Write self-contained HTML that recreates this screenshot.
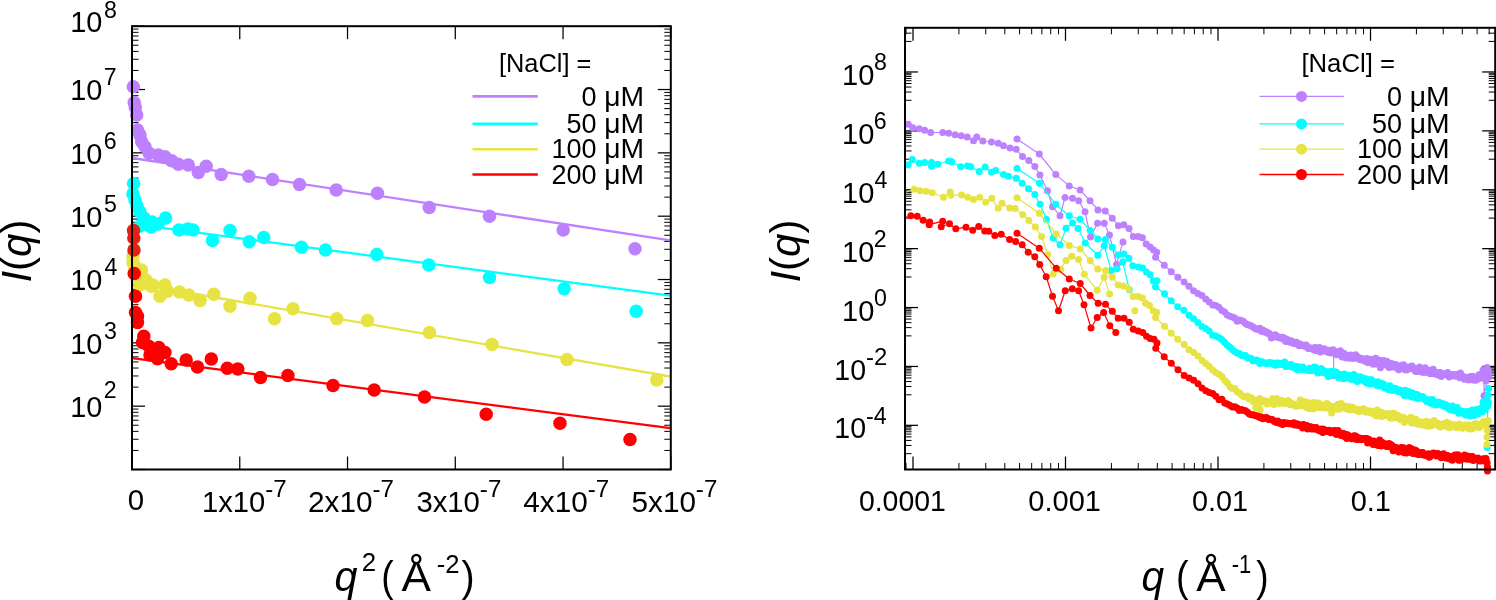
<!DOCTYPE html>
<html><head><meta charset="utf-8"><style>
html,body{margin:0;padding:0;background:#fff;}
svg{display:block;will-change:transform;}
text{font-family:"Liberation Sans", sans-serif;fill:#000;}
</style></head><body>
<svg width="1496" height="600" viewBox="0 0 1496 600">
<rect width="1496" height="600" fill="#fff"/>
<line x1="132.00" y1="469.50" x2="145.00" y2="469.50" stroke="#000" stroke-width="1.25"/>
<line x1="670.80" y1="469.50" x2="657.80" y2="469.50" stroke="#000" stroke-width="1.25"/>
<line x1="132.00" y1="450.44" x2="138.50" y2="450.44" stroke="#000" stroke-width="1.0"/>
<line x1="670.80" y1="450.44" x2="664.30" y2="450.44" stroke="#000" stroke-width="1.0"/>
<line x1="132.00" y1="439.28" x2="138.50" y2="439.28" stroke="#000" stroke-width="1.0"/>
<line x1="670.80" y1="439.28" x2="664.30" y2="439.28" stroke="#000" stroke-width="1.0"/>
<line x1="132.00" y1="431.37" x2="138.50" y2="431.37" stroke="#000" stroke-width="1.0"/>
<line x1="670.80" y1="431.37" x2="664.30" y2="431.37" stroke="#000" stroke-width="1.0"/>
<line x1="132.00" y1="425.24" x2="138.50" y2="425.24" stroke="#000" stroke-width="1.0"/>
<line x1="670.80" y1="425.24" x2="664.30" y2="425.24" stroke="#000" stroke-width="1.0"/>
<line x1="132.00" y1="420.22" x2="138.50" y2="420.22" stroke="#000" stroke-width="1.0"/>
<line x1="670.80" y1="420.22" x2="664.30" y2="420.22" stroke="#000" stroke-width="1.0"/>
<line x1="132.00" y1="415.98" x2="138.50" y2="415.98" stroke="#000" stroke-width="1.0"/>
<line x1="670.80" y1="415.98" x2="664.30" y2="415.98" stroke="#000" stroke-width="1.0"/>
<line x1="132.00" y1="412.31" x2="138.50" y2="412.31" stroke="#000" stroke-width="1.0"/>
<line x1="670.80" y1="412.31" x2="664.30" y2="412.31" stroke="#000" stroke-width="1.0"/>
<line x1="132.00" y1="409.07" x2="138.50" y2="409.07" stroke="#000" stroke-width="1.0"/>
<line x1="670.80" y1="409.07" x2="664.30" y2="409.07" stroke="#000" stroke-width="1.0"/>
<line x1="132.00" y1="406.17" x2="145.00" y2="406.17" stroke="#000" stroke-width="1.25"/>
<line x1="670.80" y1="406.17" x2="657.80" y2="406.17" stroke="#000" stroke-width="1.25"/>
<line x1="132.00" y1="387.11" x2="138.50" y2="387.11" stroke="#000" stroke-width="1.0"/>
<line x1="670.80" y1="387.11" x2="664.30" y2="387.11" stroke="#000" stroke-width="1.0"/>
<line x1="132.00" y1="375.96" x2="138.50" y2="375.96" stroke="#000" stroke-width="1.0"/>
<line x1="670.80" y1="375.96" x2="664.30" y2="375.96" stroke="#000" stroke-width="1.0"/>
<line x1="132.00" y1="368.04" x2="138.50" y2="368.04" stroke="#000" stroke-width="1.0"/>
<line x1="670.80" y1="368.04" x2="664.30" y2="368.04" stroke="#000" stroke-width="1.0"/>
<line x1="132.00" y1="361.91" x2="138.50" y2="361.91" stroke="#000" stroke-width="1.0"/>
<line x1="670.80" y1="361.91" x2="664.30" y2="361.91" stroke="#000" stroke-width="1.0"/>
<line x1="132.00" y1="356.89" x2="138.50" y2="356.89" stroke="#000" stroke-width="1.0"/>
<line x1="670.80" y1="356.89" x2="664.30" y2="356.89" stroke="#000" stroke-width="1.0"/>
<line x1="132.00" y1="352.65" x2="138.50" y2="352.65" stroke="#000" stroke-width="1.0"/>
<line x1="670.80" y1="352.65" x2="664.30" y2="352.65" stroke="#000" stroke-width="1.0"/>
<line x1="132.00" y1="348.98" x2="138.50" y2="348.98" stroke="#000" stroke-width="1.0"/>
<line x1="670.80" y1="348.98" x2="664.30" y2="348.98" stroke="#000" stroke-width="1.0"/>
<line x1="132.00" y1="345.74" x2="138.50" y2="345.74" stroke="#000" stroke-width="1.0"/>
<line x1="670.80" y1="345.74" x2="664.30" y2="345.74" stroke="#000" stroke-width="1.0"/>
<line x1="132.00" y1="342.84" x2="145.00" y2="342.84" stroke="#000" stroke-width="1.25"/>
<line x1="670.80" y1="342.84" x2="657.80" y2="342.84" stroke="#000" stroke-width="1.25"/>
<line x1="132.00" y1="323.78" x2="138.50" y2="323.78" stroke="#000" stroke-width="1.0"/>
<line x1="670.80" y1="323.78" x2="664.30" y2="323.78" stroke="#000" stroke-width="1.0"/>
<line x1="132.00" y1="312.63" x2="138.50" y2="312.63" stroke="#000" stroke-width="1.0"/>
<line x1="670.80" y1="312.63" x2="664.30" y2="312.63" stroke="#000" stroke-width="1.0"/>
<line x1="132.00" y1="304.72" x2="138.50" y2="304.72" stroke="#000" stroke-width="1.0"/>
<line x1="670.80" y1="304.72" x2="664.30" y2="304.72" stroke="#000" stroke-width="1.0"/>
<line x1="132.00" y1="298.58" x2="138.50" y2="298.58" stroke="#000" stroke-width="1.0"/>
<line x1="670.80" y1="298.58" x2="664.30" y2="298.58" stroke="#000" stroke-width="1.0"/>
<line x1="132.00" y1="293.56" x2="138.50" y2="293.56" stroke="#000" stroke-width="1.0"/>
<line x1="670.80" y1="293.56" x2="664.30" y2="293.56" stroke="#000" stroke-width="1.0"/>
<line x1="132.00" y1="289.32" x2="138.50" y2="289.32" stroke="#000" stroke-width="1.0"/>
<line x1="670.80" y1="289.32" x2="664.30" y2="289.32" stroke="#000" stroke-width="1.0"/>
<line x1="132.00" y1="285.65" x2="138.50" y2="285.65" stroke="#000" stroke-width="1.0"/>
<line x1="670.80" y1="285.65" x2="664.30" y2="285.65" stroke="#000" stroke-width="1.0"/>
<line x1="132.00" y1="282.41" x2="138.50" y2="282.41" stroke="#000" stroke-width="1.0"/>
<line x1="670.80" y1="282.41" x2="664.30" y2="282.41" stroke="#000" stroke-width="1.0"/>
<line x1="132.00" y1="279.51" x2="145.00" y2="279.51" stroke="#000" stroke-width="1.25"/>
<line x1="670.80" y1="279.51" x2="657.80" y2="279.51" stroke="#000" stroke-width="1.25"/>
<line x1="132.00" y1="260.45" x2="138.50" y2="260.45" stroke="#000" stroke-width="1.0"/>
<line x1="670.80" y1="260.45" x2="664.30" y2="260.45" stroke="#000" stroke-width="1.0"/>
<line x1="132.00" y1="249.30" x2="138.50" y2="249.30" stroke="#000" stroke-width="1.0"/>
<line x1="670.80" y1="249.30" x2="664.30" y2="249.30" stroke="#000" stroke-width="1.0"/>
<line x1="132.00" y1="241.39" x2="138.50" y2="241.39" stroke="#000" stroke-width="1.0"/>
<line x1="670.80" y1="241.39" x2="664.30" y2="241.39" stroke="#000" stroke-width="1.0"/>
<line x1="132.00" y1="235.25" x2="138.50" y2="235.25" stroke="#000" stroke-width="1.0"/>
<line x1="670.80" y1="235.25" x2="664.30" y2="235.25" stroke="#000" stroke-width="1.0"/>
<line x1="132.00" y1="230.24" x2="138.50" y2="230.24" stroke="#000" stroke-width="1.0"/>
<line x1="670.80" y1="230.24" x2="664.30" y2="230.24" stroke="#000" stroke-width="1.0"/>
<line x1="132.00" y1="226.00" x2="138.50" y2="226.00" stroke="#000" stroke-width="1.0"/>
<line x1="670.80" y1="226.00" x2="664.30" y2="226.00" stroke="#000" stroke-width="1.0"/>
<line x1="132.00" y1="222.32" x2="138.50" y2="222.32" stroke="#000" stroke-width="1.0"/>
<line x1="670.80" y1="222.32" x2="664.30" y2="222.32" stroke="#000" stroke-width="1.0"/>
<line x1="132.00" y1="219.08" x2="138.50" y2="219.08" stroke="#000" stroke-width="1.0"/>
<line x1="670.80" y1="219.08" x2="664.30" y2="219.08" stroke="#000" stroke-width="1.0"/>
<line x1="132.00" y1="216.19" x2="145.00" y2="216.19" stroke="#000" stroke-width="1.25"/>
<line x1="670.80" y1="216.19" x2="657.80" y2="216.19" stroke="#000" stroke-width="1.25"/>
<line x1="132.00" y1="197.12" x2="138.50" y2="197.12" stroke="#000" stroke-width="1.0"/>
<line x1="670.80" y1="197.12" x2="664.30" y2="197.12" stroke="#000" stroke-width="1.0"/>
<line x1="132.00" y1="185.97" x2="138.50" y2="185.97" stroke="#000" stroke-width="1.0"/>
<line x1="670.80" y1="185.97" x2="664.30" y2="185.97" stroke="#000" stroke-width="1.0"/>
<line x1="132.00" y1="178.06" x2="138.50" y2="178.06" stroke="#000" stroke-width="1.0"/>
<line x1="670.80" y1="178.06" x2="664.30" y2="178.06" stroke="#000" stroke-width="1.0"/>
<line x1="132.00" y1="171.92" x2="138.50" y2="171.92" stroke="#000" stroke-width="1.0"/>
<line x1="670.80" y1="171.92" x2="664.30" y2="171.92" stroke="#000" stroke-width="1.0"/>
<line x1="132.00" y1="166.91" x2="138.50" y2="166.91" stroke="#000" stroke-width="1.0"/>
<line x1="670.80" y1="166.91" x2="664.30" y2="166.91" stroke="#000" stroke-width="1.0"/>
<line x1="132.00" y1="162.67" x2="138.50" y2="162.67" stroke="#000" stroke-width="1.0"/>
<line x1="670.80" y1="162.67" x2="664.30" y2="162.67" stroke="#000" stroke-width="1.0"/>
<line x1="132.00" y1="158.99" x2="138.50" y2="158.99" stroke="#000" stroke-width="1.0"/>
<line x1="670.80" y1="158.99" x2="664.30" y2="158.99" stroke="#000" stroke-width="1.0"/>
<line x1="132.00" y1="155.75" x2="138.50" y2="155.75" stroke="#000" stroke-width="1.0"/>
<line x1="670.80" y1="155.75" x2="664.30" y2="155.75" stroke="#000" stroke-width="1.0"/>
<line x1="132.00" y1="152.86" x2="145.00" y2="152.86" stroke="#000" stroke-width="1.25"/>
<line x1="670.80" y1="152.86" x2="657.80" y2="152.86" stroke="#000" stroke-width="1.25"/>
<line x1="132.00" y1="133.79" x2="138.50" y2="133.79" stroke="#000" stroke-width="1.0"/>
<line x1="670.80" y1="133.79" x2="664.30" y2="133.79" stroke="#000" stroke-width="1.0"/>
<line x1="132.00" y1="122.64" x2="138.50" y2="122.64" stroke="#000" stroke-width="1.0"/>
<line x1="670.80" y1="122.64" x2="664.30" y2="122.64" stroke="#000" stroke-width="1.0"/>
<line x1="132.00" y1="114.73" x2="138.50" y2="114.73" stroke="#000" stroke-width="1.0"/>
<line x1="670.80" y1="114.73" x2="664.30" y2="114.73" stroke="#000" stroke-width="1.0"/>
<line x1="132.00" y1="108.59" x2="138.50" y2="108.59" stroke="#000" stroke-width="1.0"/>
<line x1="670.80" y1="108.59" x2="664.30" y2="108.59" stroke="#000" stroke-width="1.0"/>
<line x1="132.00" y1="103.58" x2="138.50" y2="103.58" stroke="#000" stroke-width="1.0"/>
<line x1="670.80" y1="103.58" x2="664.30" y2="103.58" stroke="#000" stroke-width="1.0"/>
<line x1="132.00" y1="99.34" x2="138.50" y2="99.34" stroke="#000" stroke-width="1.0"/>
<line x1="670.80" y1="99.34" x2="664.30" y2="99.34" stroke="#000" stroke-width="1.0"/>
<line x1="132.00" y1="95.67" x2="138.50" y2="95.67" stroke="#000" stroke-width="1.0"/>
<line x1="670.80" y1="95.67" x2="664.30" y2="95.67" stroke="#000" stroke-width="1.0"/>
<line x1="132.00" y1="92.43" x2="138.50" y2="92.43" stroke="#000" stroke-width="1.0"/>
<line x1="670.80" y1="92.43" x2="664.30" y2="92.43" stroke="#000" stroke-width="1.0"/>
<line x1="132.00" y1="89.53" x2="145.00" y2="89.53" stroke="#000" stroke-width="1.25"/>
<line x1="670.80" y1="89.53" x2="657.80" y2="89.53" stroke="#000" stroke-width="1.25"/>
<line x1="132.00" y1="70.46" x2="138.50" y2="70.46" stroke="#000" stroke-width="1.0"/>
<line x1="670.80" y1="70.46" x2="664.30" y2="70.46" stroke="#000" stroke-width="1.0"/>
<line x1="132.00" y1="59.31" x2="138.50" y2="59.31" stroke="#000" stroke-width="1.0"/>
<line x1="670.80" y1="59.31" x2="664.30" y2="59.31" stroke="#000" stroke-width="1.0"/>
<line x1="132.00" y1="51.40" x2="138.50" y2="51.40" stroke="#000" stroke-width="1.0"/>
<line x1="670.80" y1="51.40" x2="664.30" y2="51.40" stroke="#000" stroke-width="1.0"/>
<line x1="132.00" y1="45.26" x2="138.50" y2="45.26" stroke="#000" stroke-width="1.0"/>
<line x1="670.80" y1="45.26" x2="664.30" y2="45.26" stroke="#000" stroke-width="1.0"/>
<line x1="132.00" y1="40.25" x2="138.50" y2="40.25" stroke="#000" stroke-width="1.0"/>
<line x1="670.80" y1="40.25" x2="664.30" y2="40.25" stroke="#000" stroke-width="1.0"/>
<line x1="132.00" y1="36.01" x2="138.50" y2="36.01" stroke="#000" stroke-width="1.0"/>
<line x1="670.80" y1="36.01" x2="664.30" y2="36.01" stroke="#000" stroke-width="1.0"/>
<line x1="132.00" y1="32.34" x2="138.50" y2="32.34" stroke="#000" stroke-width="1.0"/>
<line x1="670.80" y1="32.34" x2="664.30" y2="32.34" stroke="#000" stroke-width="1.0"/>
<line x1="132.00" y1="29.10" x2="138.50" y2="29.10" stroke="#000" stroke-width="1.0"/>
<line x1="670.80" y1="29.10" x2="664.30" y2="29.10" stroke="#000" stroke-width="1.0"/>
<line x1="132.00" y1="26.20" x2="145.00" y2="26.20" stroke="#000" stroke-width="1.25"/>
<line x1="670.80" y1="26.20" x2="657.80" y2="26.20" stroke="#000" stroke-width="1.25"/>
<line x1="132.00" y1="469.50" x2="132.00" y2="456.50" stroke="#000" stroke-width="1.25"/>
<line x1="132.00" y1="26.20" x2="132.00" y2="39.20" stroke="#000" stroke-width="1.25"/>
<line x1="239.76" y1="469.50" x2="239.76" y2="456.50" stroke="#000" stroke-width="1.25"/>
<line x1="239.76" y1="26.20" x2="239.76" y2="39.20" stroke="#000" stroke-width="1.25"/>
<line x1="347.52" y1="469.50" x2="347.52" y2="456.50" stroke="#000" stroke-width="1.25"/>
<line x1="347.52" y1="26.20" x2="347.52" y2="39.20" stroke="#000" stroke-width="1.25"/>
<line x1="455.28" y1="469.50" x2="455.28" y2="456.50" stroke="#000" stroke-width="1.25"/>
<line x1="455.28" y1="26.20" x2="455.28" y2="39.20" stroke="#000" stroke-width="1.25"/>
<line x1="563.04" y1="469.50" x2="563.04" y2="456.50" stroke="#000" stroke-width="1.25"/>
<line x1="563.04" y1="26.20" x2="563.04" y2="39.20" stroke="#000" stroke-width="1.25"/>
<line x1="670.80" y1="469.50" x2="670.80" y2="456.50" stroke="#000" stroke-width="1.25"/>
<line x1="670.80" y1="26.20" x2="670.80" y2="39.20" stroke="#000" stroke-width="1.25"/>
<line x1="905.00" y1="425.33" x2="918.00" y2="425.33" stroke="#000" stroke-width="1.25"/>
<line x1="1495.20" y1="425.33" x2="1482.20" y2="425.33" stroke="#000" stroke-width="1.25"/>
<line x1="905.00" y1="366.44" x2="918.00" y2="366.44" stroke="#000" stroke-width="1.25"/>
<line x1="1495.20" y1="366.44" x2="1482.20" y2="366.44" stroke="#000" stroke-width="1.25"/>
<line x1="905.00" y1="307.54" x2="918.00" y2="307.54" stroke="#000" stroke-width="1.25"/>
<line x1="1495.20" y1="307.54" x2="1482.20" y2="307.54" stroke="#000" stroke-width="1.25"/>
<line x1="905.00" y1="248.65" x2="918.00" y2="248.65" stroke="#000" stroke-width="1.25"/>
<line x1="1495.20" y1="248.65" x2="1482.20" y2="248.65" stroke="#000" stroke-width="1.25"/>
<line x1="905.00" y1="189.76" x2="918.00" y2="189.76" stroke="#000" stroke-width="1.25"/>
<line x1="1495.20" y1="189.76" x2="1482.20" y2="189.76" stroke="#000" stroke-width="1.25"/>
<line x1="905.00" y1="130.86" x2="918.00" y2="130.86" stroke="#000" stroke-width="1.25"/>
<line x1="1495.20" y1="130.86" x2="1482.20" y2="130.86" stroke="#000" stroke-width="1.25"/>
<line x1="905.00" y1="71.97" x2="918.00" y2="71.97" stroke="#000" stroke-width="1.25"/>
<line x1="1495.20" y1="71.97" x2="1482.20" y2="71.97" stroke="#000" stroke-width="1.25"/>
<line x1="905.00" y1="453.67" x2="911.50" y2="453.67" stroke="#000" stroke-width="1.0"/>
<line x1="1495.20" y1="453.67" x2="1488.70" y2="453.67" stroke="#000" stroke-width="1.0"/>
<line x1="905.00" y1="445.41" x2="911.50" y2="445.41" stroke="#000" stroke-width="1.0"/>
<line x1="1495.20" y1="445.41" x2="1488.70" y2="445.41" stroke="#000" stroke-width="1.0"/>
<line x1="905.00" y1="440.43" x2="911.50" y2="440.43" stroke="#000" stroke-width="1.0"/>
<line x1="1495.20" y1="440.43" x2="1488.70" y2="440.43" stroke="#000" stroke-width="1.0"/>
<line x1="905.00" y1="436.86" x2="911.50" y2="436.86" stroke="#000" stroke-width="1.0"/>
<line x1="1495.20" y1="436.86" x2="1488.70" y2="436.86" stroke="#000" stroke-width="1.0"/>
<line x1="905.00" y1="434.07" x2="911.50" y2="434.07" stroke="#000" stroke-width="1.0"/>
<line x1="1495.20" y1="434.07" x2="1488.70" y2="434.07" stroke="#000" stroke-width="1.0"/>
<line x1="905.00" y1="431.78" x2="911.50" y2="431.78" stroke="#000" stroke-width="1.0"/>
<line x1="1495.20" y1="431.78" x2="1488.70" y2="431.78" stroke="#000" stroke-width="1.0"/>
<line x1="905.00" y1="429.84" x2="911.50" y2="429.84" stroke="#000" stroke-width="1.0"/>
<line x1="1495.20" y1="429.84" x2="1488.70" y2="429.84" stroke="#000" stroke-width="1.0"/>
<line x1="905.00" y1="428.15" x2="911.50" y2="428.15" stroke="#000" stroke-width="1.0"/>
<line x1="1495.20" y1="428.15" x2="1488.70" y2="428.15" stroke="#000" stroke-width="1.0"/>
<line x1="905.00" y1="426.66" x2="911.50" y2="426.66" stroke="#000" stroke-width="1.0"/>
<line x1="1495.20" y1="426.66" x2="1488.70" y2="426.66" stroke="#000" stroke-width="1.0"/>
<line x1="905.00" y1="394.78" x2="911.50" y2="394.78" stroke="#000" stroke-width="1.0"/>
<line x1="1495.20" y1="394.78" x2="1488.70" y2="394.78" stroke="#000" stroke-width="1.0"/>
<line x1="905.00" y1="386.52" x2="911.50" y2="386.52" stroke="#000" stroke-width="1.0"/>
<line x1="1495.20" y1="386.52" x2="1488.70" y2="386.52" stroke="#000" stroke-width="1.0"/>
<line x1="905.00" y1="381.54" x2="911.50" y2="381.54" stroke="#000" stroke-width="1.0"/>
<line x1="1495.20" y1="381.54" x2="1488.70" y2="381.54" stroke="#000" stroke-width="1.0"/>
<line x1="905.00" y1="377.96" x2="911.50" y2="377.96" stroke="#000" stroke-width="1.0"/>
<line x1="1495.20" y1="377.96" x2="1488.70" y2="377.96" stroke="#000" stroke-width="1.0"/>
<line x1="905.00" y1="375.17" x2="911.50" y2="375.17" stroke="#000" stroke-width="1.0"/>
<line x1="1495.20" y1="375.17" x2="1488.70" y2="375.17" stroke="#000" stroke-width="1.0"/>
<line x1="905.00" y1="372.88" x2="911.50" y2="372.88" stroke="#000" stroke-width="1.0"/>
<line x1="1495.20" y1="372.88" x2="1488.70" y2="372.88" stroke="#000" stroke-width="1.0"/>
<line x1="905.00" y1="370.94" x2="911.50" y2="370.94" stroke="#000" stroke-width="1.0"/>
<line x1="1495.20" y1="370.94" x2="1488.70" y2="370.94" stroke="#000" stroke-width="1.0"/>
<line x1="905.00" y1="369.26" x2="911.50" y2="369.26" stroke="#000" stroke-width="1.0"/>
<line x1="1495.20" y1="369.26" x2="1488.70" y2="369.26" stroke="#000" stroke-width="1.0"/>
<line x1="905.00" y1="367.77" x2="911.50" y2="367.77" stroke="#000" stroke-width="1.0"/>
<line x1="1495.20" y1="367.77" x2="1488.70" y2="367.77" stroke="#000" stroke-width="1.0"/>
<line x1="905.00" y1="335.89" x2="911.50" y2="335.89" stroke="#000" stroke-width="1.0"/>
<line x1="1495.20" y1="335.89" x2="1488.70" y2="335.89" stroke="#000" stroke-width="1.0"/>
<line x1="905.00" y1="327.62" x2="911.50" y2="327.62" stroke="#000" stroke-width="1.0"/>
<line x1="1495.20" y1="327.62" x2="1488.70" y2="327.62" stroke="#000" stroke-width="1.0"/>
<line x1="905.00" y1="322.65" x2="911.50" y2="322.65" stroke="#000" stroke-width="1.0"/>
<line x1="1495.20" y1="322.65" x2="1488.70" y2="322.65" stroke="#000" stroke-width="1.0"/>
<line x1="905.00" y1="319.07" x2="911.50" y2="319.07" stroke="#000" stroke-width="1.0"/>
<line x1="1495.20" y1="319.07" x2="1488.70" y2="319.07" stroke="#000" stroke-width="1.0"/>
<line x1="905.00" y1="316.28" x2="911.50" y2="316.28" stroke="#000" stroke-width="1.0"/>
<line x1="1495.20" y1="316.28" x2="1488.70" y2="316.28" stroke="#000" stroke-width="1.0"/>
<line x1="905.00" y1="313.99" x2="911.50" y2="313.99" stroke="#000" stroke-width="1.0"/>
<line x1="1495.20" y1="313.99" x2="1488.70" y2="313.99" stroke="#000" stroke-width="1.0"/>
<line x1="905.00" y1="312.05" x2="911.50" y2="312.05" stroke="#000" stroke-width="1.0"/>
<line x1="1495.20" y1="312.05" x2="1488.70" y2="312.05" stroke="#000" stroke-width="1.0"/>
<line x1="905.00" y1="310.37" x2="911.50" y2="310.37" stroke="#000" stroke-width="1.0"/>
<line x1="1495.20" y1="310.37" x2="1488.70" y2="310.37" stroke="#000" stroke-width="1.0"/>
<line x1="905.00" y1="308.88" x2="911.50" y2="308.88" stroke="#000" stroke-width="1.0"/>
<line x1="1495.20" y1="308.88" x2="1488.70" y2="308.88" stroke="#000" stroke-width="1.0"/>
<line x1="905.00" y1="276.99" x2="911.50" y2="276.99" stroke="#000" stroke-width="1.0"/>
<line x1="1495.20" y1="276.99" x2="1488.70" y2="276.99" stroke="#000" stroke-width="1.0"/>
<line x1="905.00" y1="268.73" x2="911.50" y2="268.73" stroke="#000" stroke-width="1.0"/>
<line x1="1495.20" y1="268.73" x2="1488.70" y2="268.73" stroke="#000" stroke-width="1.0"/>
<line x1="905.00" y1="263.75" x2="911.50" y2="263.75" stroke="#000" stroke-width="1.0"/>
<line x1="1495.20" y1="263.75" x2="1488.70" y2="263.75" stroke="#000" stroke-width="1.0"/>
<line x1="905.00" y1="260.18" x2="911.50" y2="260.18" stroke="#000" stroke-width="1.0"/>
<line x1="1495.20" y1="260.18" x2="1488.70" y2="260.18" stroke="#000" stroke-width="1.0"/>
<line x1="905.00" y1="257.39" x2="911.50" y2="257.39" stroke="#000" stroke-width="1.0"/>
<line x1="1495.20" y1="257.39" x2="1488.70" y2="257.39" stroke="#000" stroke-width="1.0"/>
<line x1="905.00" y1="255.10" x2="911.50" y2="255.10" stroke="#000" stroke-width="1.0"/>
<line x1="1495.20" y1="255.10" x2="1488.70" y2="255.10" stroke="#000" stroke-width="1.0"/>
<line x1="905.00" y1="253.16" x2="911.50" y2="253.16" stroke="#000" stroke-width="1.0"/>
<line x1="1495.20" y1="253.16" x2="1488.70" y2="253.16" stroke="#000" stroke-width="1.0"/>
<line x1="905.00" y1="251.47" x2="911.50" y2="251.47" stroke="#000" stroke-width="1.0"/>
<line x1="1495.20" y1="251.47" x2="1488.70" y2="251.47" stroke="#000" stroke-width="1.0"/>
<line x1="905.00" y1="249.98" x2="911.50" y2="249.98" stroke="#000" stroke-width="1.0"/>
<line x1="1495.20" y1="249.98" x2="1488.70" y2="249.98" stroke="#000" stroke-width="1.0"/>
<line x1="905.00" y1="218.10" x2="911.50" y2="218.10" stroke="#000" stroke-width="1.0"/>
<line x1="1495.20" y1="218.10" x2="1488.70" y2="218.10" stroke="#000" stroke-width="1.0"/>
<line x1="905.00" y1="209.84" x2="911.50" y2="209.84" stroke="#000" stroke-width="1.0"/>
<line x1="1495.20" y1="209.84" x2="1488.70" y2="209.84" stroke="#000" stroke-width="1.0"/>
<line x1="905.00" y1="204.86" x2="911.50" y2="204.86" stroke="#000" stroke-width="1.0"/>
<line x1="1495.20" y1="204.86" x2="1488.70" y2="204.86" stroke="#000" stroke-width="1.0"/>
<line x1="905.00" y1="201.28" x2="911.50" y2="201.28" stroke="#000" stroke-width="1.0"/>
<line x1="1495.20" y1="201.28" x2="1488.70" y2="201.28" stroke="#000" stroke-width="1.0"/>
<line x1="905.00" y1="198.49" x2="911.50" y2="198.49" stroke="#000" stroke-width="1.0"/>
<line x1="1495.20" y1="198.49" x2="1488.70" y2="198.49" stroke="#000" stroke-width="1.0"/>
<line x1="905.00" y1="196.20" x2="911.50" y2="196.20" stroke="#000" stroke-width="1.0"/>
<line x1="1495.20" y1="196.20" x2="1488.70" y2="196.20" stroke="#000" stroke-width="1.0"/>
<line x1="905.00" y1="194.26" x2="911.50" y2="194.26" stroke="#000" stroke-width="1.0"/>
<line x1="1495.20" y1="194.26" x2="1488.70" y2="194.26" stroke="#000" stroke-width="1.0"/>
<line x1="905.00" y1="192.58" x2="911.50" y2="192.58" stroke="#000" stroke-width="1.0"/>
<line x1="1495.20" y1="192.58" x2="1488.70" y2="192.58" stroke="#000" stroke-width="1.0"/>
<line x1="905.00" y1="191.09" x2="911.50" y2="191.09" stroke="#000" stroke-width="1.0"/>
<line x1="1495.20" y1="191.09" x2="1488.70" y2="191.09" stroke="#000" stroke-width="1.0"/>
<line x1="905.00" y1="159.21" x2="911.50" y2="159.21" stroke="#000" stroke-width="1.0"/>
<line x1="1495.20" y1="159.21" x2="1488.70" y2="159.21" stroke="#000" stroke-width="1.0"/>
<line x1="905.00" y1="150.94" x2="911.50" y2="150.94" stroke="#000" stroke-width="1.0"/>
<line x1="1495.20" y1="150.94" x2="1488.70" y2="150.94" stroke="#000" stroke-width="1.0"/>
<line x1="905.00" y1="145.97" x2="911.50" y2="145.97" stroke="#000" stroke-width="1.0"/>
<line x1="1495.20" y1="145.97" x2="1488.70" y2="145.97" stroke="#000" stroke-width="1.0"/>
<line x1="905.00" y1="142.39" x2="911.50" y2="142.39" stroke="#000" stroke-width="1.0"/>
<line x1="1495.20" y1="142.39" x2="1488.70" y2="142.39" stroke="#000" stroke-width="1.0"/>
<line x1="905.00" y1="139.60" x2="911.50" y2="139.60" stroke="#000" stroke-width="1.0"/>
<line x1="1495.20" y1="139.60" x2="1488.70" y2="139.60" stroke="#000" stroke-width="1.0"/>
<line x1="905.00" y1="137.31" x2="911.50" y2="137.31" stroke="#000" stroke-width="1.0"/>
<line x1="1495.20" y1="137.31" x2="1488.70" y2="137.31" stroke="#000" stroke-width="1.0"/>
<line x1="905.00" y1="135.37" x2="911.50" y2="135.37" stroke="#000" stroke-width="1.0"/>
<line x1="1495.20" y1="135.37" x2="1488.70" y2="135.37" stroke="#000" stroke-width="1.0"/>
<line x1="905.00" y1="133.69" x2="911.50" y2="133.69" stroke="#000" stroke-width="1.0"/>
<line x1="1495.20" y1="133.69" x2="1488.70" y2="133.69" stroke="#000" stroke-width="1.0"/>
<line x1="905.00" y1="132.20" x2="911.50" y2="132.20" stroke="#000" stroke-width="1.0"/>
<line x1="1495.20" y1="132.20" x2="1488.70" y2="132.20" stroke="#000" stroke-width="1.0"/>
<line x1="905.00" y1="100.31" x2="911.50" y2="100.31" stroke="#000" stroke-width="1.0"/>
<line x1="1495.20" y1="100.31" x2="1488.70" y2="100.31" stroke="#000" stroke-width="1.0"/>
<line x1="905.00" y1="92.05" x2="911.50" y2="92.05" stroke="#000" stroke-width="1.0"/>
<line x1="1495.20" y1="92.05" x2="1488.70" y2="92.05" stroke="#000" stroke-width="1.0"/>
<line x1="905.00" y1="87.07" x2="911.50" y2="87.07" stroke="#000" stroke-width="1.0"/>
<line x1="1495.20" y1="87.07" x2="1488.70" y2="87.07" stroke="#000" stroke-width="1.0"/>
<line x1="905.00" y1="83.50" x2="911.50" y2="83.50" stroke="#000" stroke-width="1.0"/>
<line x1="1495.20" y1="83.50" x2="1488.70" y2="83.50" stroke="#000" stroke-width="1.0"/>
<line x1="905.00" y1="80.71" x2="911.50" y2="80.71" stroke="#000" stroke-width="1.0"/>
<line x1="1495.20" y1="80.71" x2="1488.70" y2="80.71" stroke="#000" stroke-width="1.0"/>
<line x1="905.00" y1="78.42" x2="911.50" y2="78.42" stroke="#000" stroke-width="1.0"/>
<line x1="1495.20" y1="78.42" x2="1488.70" y2="78.42" stroke="#000" stroke-width="1.0"/>
<line x1="905.00" y1="76.48" x2="911.50" y2="76.48" stroke="#000" stroke-width="1.0"/>
<line x1="1495.20" y1="76.48" x2="1488.70" y2="76.48" stroke="#000" stroke-width="1.0"/>
<line x1="905.00" y1="74.79" x2="911.50" y2="74.79" stroke="#000" stroke-width="1.0"/>
<line x1="1495.20" y1="74.79" x2="1488.70" y2="74.79" stroke="#000" stroke-width="1.0"/>
<line x1="905.00" y1="73.30" x2="911.50" y2="73.30" stroke="#000" stroke-width="1.0"/>
<line x1="1495.20" y1="73.30" x2="1488.70" y2="73.30" stroke="#000" stroke-width="1.0"/>
<line x1="905.00" y1="41.42" x2="911.50" y2="41.42" stroke="#000" stroke-width="1.0"/>
<line x1="1495.20" y1="41.42" x2="1488.70" y2="41.42" stroke="#000" stroke-width="1.0"/>
<line x1="905.00" y1="33.16" x2="911.50" y2="33.16" stroke="#000" stroke-width="1.0"/>
<line x1="1495.20" y1="33.16" x2="1488.70" y2="33.16" stroke="#000" stroke-width="1.0"/>
<line x1="913.00" y1="469.50" x2="913.00" y2="456.50" stroke="#000" stroke-width="1.25"/>
<line x1="913.00" y1="27.80" x2="913.00" y2="40.80" stroke="#000" stroke-width="1.25"/>
<line x1="1065.50" y1="469.50" x2="1065.50" y2="456.50" stroke="#000" stroke-width="1.25"/>
<line x1="1065.50" y1="27.80" x2="1065.50" y2="40.80" stroke="#000" stroke-width="1.25"/>
<line x1="1218.00" y1="469.50" x2="1218.00" y2="456.50" stroke="#000" stroke-width="1.25"/>
<line x1="1218.00" y1="27.80" x2="1218.00" y2="40.80" stroke="#000" stroke-width="1.25"/>
<line x1="1370.50" y1="469.50" x2="1370.50" y2="456.50" stroke="#000" stroke-width="1.25"/>
<line x1="1370.50" y1="27.80" x2="1370.50" y2="40.80" stroke="#000" stroke-width="1.25"/>
<line x1="906.02" y1="469.50" x2="906.02" y2="463.00" stroke="#000" stroke-width="1.0"/>
<line x1="906.02" y1="27.80" x2="906.02" y2="34.30" stroke="#000" stroke-width="1.0"/>
<line x1="958.91" y1="469.50" x2="958.91" y2="463.00" stroke="#000" stroke-width="1.0"/>
<line x1="958.91" y1="27.80" x2="958.91" y2="34.30" stroke="#000" stroke-width="1.0"/>
<line x1="985.76" y1="469.50" x2="985.76" y2="463.00" stroke="#000" stroke-width="1.0"/>
<line x1="985.76" y1="27.80" x2="985.76" y2="34.30" stroke="#000" stroke-width="1.0"/>
<line x1="1004.81" y1="469.50" x2="1004.81" y2="463.00" stroke="#000" stroke-width="1.0"/>
<line x1="1004.81" y1="27.80" x2="1004.81" y2="34.30" stroke="#000" stroke-width="1.0"/>
<line x1="1019.59" y1="469.50" x2="1019.59" y2="463.00" stroke="#000" stroke-width="1.0"/>
<line x1="1019.59" y1="27.80" x2="1019.59" y2="34.30" stroke="#000" stroke-width="1.0"/>
<line x1="1031.67" y1="469.50" x2="1031.67" y2="463.00" stroke="#000" stroke-width="1.0"/>
<line x1="1031.67" y1="27.80" x2="1031.67" y2="34.30" stroke="#000" stroke-width="1.0"/>
<line x1="1041.88" y1="469.50" x2="1041.88" y2="463.00" stroke="#000" stroke-width="1.0"/>
<line x1="1041.88" y1="27.80" x2="1041.88" y2="34.30" stroke="#000" stroke-width="1.0"/>
<line x1="1050.72" y1="469.50" x2="1050.72" y2="463.00" stroke="#000" stroke-width="1.0"/>
<line x1="1050.72" y1="27.80" x2="1050.72" y2="34.30" stroke="#000" stroke-width="1.0"/>
<line x1="1058.52" y1="469.50" x2="1058.52" y2="463.00" stroke="#000" stroke-width="1.0"/>
<line x1="1058.52" y1="27.80" x2="1058.52" y2="34.30" stroke="#000" stroke-width="1.0"/>
<line x1="1111.41" y1="469.50" x2="1111.41" y2="463.00" stroke="#000" stroke-width="1.0"/>
<line x1="1111.41" y1="27.80" x2="1111.41" y2="34.30" stroke="#000" stroke-width="1.0"/>
<line x1="1138.26" y1="469.50" x2="1138.26" y2="463.00" stroke="#000" stroke-width="1.0"/>
<line x1="1138.26" y1="27.80" x2="1138.26" y2="34.30" stroke="#000" stroke-width="1.0"/>
<line x1="1157.31" y1="469.50" x2="1157.31" y2="463.00" stroke="#000" stroke-width="1.0"/>
<line x1="1157.31" y1="27.80" x2="1157.31" y2="34.30" stroke="#000" stroke-width="1.0"/>
<line x1="1172.09" y1="469.50" x2="1172.09" y2="463.00" stroke="#000" stroke-width="1.0"/>
<line x1="1172.09" y1="27.80" x2="1172.09" y2="34.30" stroke="#000" stroke-width="1.0"/>
<line x1="1184.17" y1="469.50" x2="1184.17" y2="463.00" stroke="#000" stroke-width="1.0"/>
<line x1="1184.17" y1="27.80" x2="1184.17" y2="34.30" stroke="#000" stroke-width="1.0"/>
<line x1="1194.38" y1="469.50" x2="1194.38" y2="463.00" stroke="#000" stroke-width="1.0"/>
<line x1="1194.38" y1="27.80" x2="1194.38" y2="34.30" stroke="#000" stroke-width="1.0"/>
<line x1="1203.22" y1="469.50" x2="1203.22" y2="463.00" stroke="#000" stroke-width="1.0"/>
<line x1="1203.22" y1="27.80" x2="1203.22" y2="34.30" stroke="#000" stroke-width="1.0"/>
<line x1="1211.02" y1="469.50" x2="1211.02" y2="463.00" stroke="#000" stroke-width="1.0"/>
<line x1="1211.02" y1="27.80" x2="1211.02" y2="34.30" stroke="#000" stroke-width="1.0"/>
<line x1="1263.91" y1="469.50" x2="1263.91" y2="463.00" stroke="#000" stroke-width="1.0"/>
<line x1="1263.91" y1="27.80" x2="1263.91" y2="34.30" stroke="#000" stroke-width="1.0"/>
<line x1="1290.76" y1="469.50" x2="1290.76" y2="463.00" stroke="#000" stroke-width="1.0"/>
<line x1="1290.76" y1="27.80" x2="1290.76" y2="34.30" stroke="#000" stroke-width="1.0"/>
<line x1="1309.81" y1="469.50" x2="1309.81" y2="463.00" stroke="#000" stroke-width="1.0"/>
<line x1="1309.81" y1="27.80" x2="1309.81" y2="34.30" stroke="#000" stroke-width="1.0"/>
<line x1="1324.59" y1="469.50" x2="1324.59" y2="463.00" stroke="#000" stroke-width="1.0"/>
<line x1="1324.59" y1="27.80" x2="1324.59" y2="34.30" stroke="#000" stroke-width="1.0"/>
<line x1="1336.67" y1="469.50" x2="1336.67" y2="463.00" stroke="#000" stroke-width="1.0"/>
<line x1="1336.67" y1="27.80" x2="1336.67" y2="34.30" stroke="#000" stroke-width="1.0"/>
<line x1="1346.88" y1="469.50" x2="1346.88" y2="463.00" stroke="#000" stroke-width="1.0"/>
<line x1="1346.88" y1="27.80" x2="1346.88" y2="34.30" stroke="#000" stroke-width="1.0"/>
<line x1="1355.72" y1="469.50" x2="1355.72" y2="463.00" stroke="#000" stroke-width="1.0"/>
<line x1="1355.72" y1="27.80" x2="1355.72" y2="34.30" stroke="#000" stroke-width="1.0"/>
<line x1="1363.52" y1="469.50" x2="1363.52" y2="463.00" stroke="#000" stroke-width="1.0"/>
<line x1="1363.52" y1="27.80" x2="1363.52" y2="34.30" stroke="#000" stroke-width="1.0"/>
<line x1="1416.41" y1="469.50" x2="1416.41" y2="463.00" stroke="#000" stroke-width="1.0"/>
<line x1="1416.41" y1="27.80" x2="1416.41" y2="34.30" stroke="#000" stroke-width="1.0"/>
<line x1="1443.26" y1="469.50" x2="1443.26" y2="463.00" stroke="#000" stroke-width="1.0"/>
<line x1="1443.26" y1="27.80" x2="1443.26" y2="34.30" stroke="#000" stroke-width="1.0"/>
<line x1="1462.31" y1="469.50" x2="1462.31" y2="463.00" stroke="#000" stroke-width="1.0"/>
<line x1="1462.31" y1="27.80" x2="1462.31" y2="34.30" stroke="#000" stroke-width="1.0"/>
<line x1="1477.09" y1="469.50" x2="1477.09" y2="463.00" stroke="#000" stroke-width="1.0"/>
<line x1="1477.09" y1="27.80" x2="1477.09" y2="34.30" stroke="#000" stroke-width="1.0"/>
<line x1="1489.17" y1="469.50" x2="1489.17" y2="463.00" stroke="#000" stroke-width="1.0"/>
<line x1="1489.17" y1="27.80" x2="1489.17" y2="34.30" stroke="#000" stroke-width="1.0"/>
<circle cx="133.3" cy="86.7" r="6.75" fill="#bd80ff"/>
<circle cx="134.2" cy="102.5" r="6.75" fill="#bd80ff"/>
<circle cx="135.3" cy="107.5" r="6.75" fill="#bd80ff"/>
<circle cx="136.7" cy="115.0" r="6.75" fill="#bd80ff"/>
<circle cx="137.5" cy="130.0" r="6.75" fill="#bd80ff"/>
<circle cx="140.0" cy="135.0" r="6.75" fill="#bd80ff"/>
<circle cx="141.7" cy="141.7" r="6.75" fill="#bd80ff"/>
<circle cx="145.0" cy="146.7" r="6.75" fill="#bd80ff"/>
<circle cx="149.2" cy="153.3" r="6.75" fill="#bd80ff"/>
<circle cx="158.3" cy="155.0" r="6.75" fill="#bd80ff"/>
<circle cx="165.0" cy="156.7" r="6.75" fill="#bd80ff"/>
<circle cx="171.7" cy="160.8" r="6.75" fill="#bd80ff"/>
<circle cx="178.3" cy="164.2" r="6.75" fill="#bd80ff"/>
<circle cx="188.3" cy="165.0" r="6.75" fill="#bd80ff"/>
<circle cx="198.3" cy="172.5" r="6.75" fill="#bd80ff"/>
<circle cx="206.2" cy="166.2" r="6.75" fill="#bd80ff"/>
<circle cx="221.2" cy="174.5" r="6.75" fill="#bd80ff"/>
<circle cx="248.8" cy="176.2" r="6.75" fill="#bd80ff"/>
<circle cx="272.5" cy="179.5" r="6.75" fill="#bd80ff"/>
<circle cx="299.5" cy="184.5" r="6.75" fill="#bd80ff"/>
<circle cx="336.2" cy="190.0" r="6.75" fill="#bd80ff"/>
<circle cx="377.5" cy="193.2" r="6.75" fill="#bd80ff"/>
<circle cx="429.2" cy="207.5" r="6.75" fill="#bd80ff"/>
<circle cx="489.5" cy="216.2" r="6.75" fill="#bd80ff"/>
<circle cx="563.2" cy="230.0" r="6.75" fill="#bd80ff"/>
<circle cx="635.0" cy="248.8" r="6.75" fill="#bd80ff"/>
<line x1="132.00" y1="158.00" x2="670.30" y2="240.30" stroke="#bd80ff" stroke-width="2.3"/>
<circle cx="133.6" cy="183.6" r="6.75" fill="#00ffff"/>
<circle cx="133.0" cy="194.0" r="6.75" fill="#00ffff"/>
<circle cx="135.0" cy="200.0" r="6.75" fill="#00ffff"/>
<circle cx="137.0" cy="206.0" r="6.75" fill="#00ffff"/>
<circle cx="140.0" cy="212.0" r="6.75" fill="#00ffff"/>
<circle cx="144.0" cy="218.0" r="6.75" fill="#00ffff"/>
<circle cx="140.0" cy="226.0" r="6.75" fill="#00ffff"/>
<circle cx="151.0" cy="227.0" r="6.75" fill="#00ffff"/>
<circle cx="152.0" cy="222.0" r="6.75" fill="#00ffff"/>
<circle cx="158.0" cy="224.0" r="6.75" fill="#00ffff"/>
<circle cx="165.6" cy="218.0" r="6.75" fill="#00ffff"/>
<circle cx="179.0" cy="230.0" r="6.75" fill="#00ffff"/>
<circle cx="188.0" cy="229.0" r="6.75" fill="#00ffff"/>
<circle cx="193.0" cy="230.0" r="6.75" fill="#00ffff"/>
<circle cx="212.5" cy="240.5" r="6.75" fill="#00ffff"/>
<circle cx="230.0" cy="230.5" r="6.75" fill="#00ffff"/>
<circle cx="249.2" cy="241.8" r="6.75" fill="#00ffff"/>
<circle cx="263.8" cy="237.5" r="6.75" fill="#00ffff"/>
<circle cx="301.5" cy="247.2" r="6.75" fill="#00ffff"/>
<circle cx="325.5" cy="250.0" r="6.75" fill="#00ffff"/>
<circle cx="376.8" cy="254.5" r="6.75" fill="#00ffff"/>
<circle cx="428.8" cy="265.0" r="6.75" fill="#00ffff"/>
<circle cx="489.5" cy="277.5" r="6.75" fill="#00ffff"/>
<circle cx="564.2" cy="288.8" r="6.75" fill="#00ffff"/>
<circle cx="636.2" cy="311.2" r="6.75" fill="#00ffff"/>
<line x1="132.00" y1="223.90" x2="670.30" y2="295.70" stroke="#00ffff" stroke-width="2.3"/>
<circle cx="133.0" cy="256.0" r="6.75" fill="#e6e342"/>
<circle cx="133.0" cy="262.0" r="6.75" fill="#e6e342"/>
<circle cx="134.0" cy="265.0" r="6.75" fill="#e6e342"/>
<circle cx="141.5" cy="270.0" r="6.75" fill="#e6e342"/>
<circle cx="140.0" cy="285.0" r="6.75" fill="#e6e342"/>
<circle cx="146.0" cy="280.0" r="6.75" fill="#e6e342"/>
<circle cx="151.2" cy="286.2" r="6.75" fill="#e6e342"/>
<circle cx="153.0" cy="285.0" r="6.75" fill="#e6e342"/>
<circle cx="160.0" cy="296.2" r="6.75" fill="#e6e342"/>
<circle cx="165.0" cy="285.0" r="6.75" fill="#e6e342"/>
<circle cx="167.5" cy="291.2" r="6.75" fill="#e6e342"/>
<circle cx="179.5" cy="292.0" r="6.75" fill="#e6e342"/>
<circle cx="188.8" cy="295.0" r="6.75" fill="#e6e342"/>
<circle cx="200.0" cy="300.5" r="6.75" fill="#e6e342"/>
<circle cx="213.8" cy="294.2" r="6.75" fill="#e6e342"/>
<circle cx="230.0" cy="306.2" r="6.75" fill="#e6e342"/>
<circle cx="250.0" cy="298.2" r="6.75" fill="#e6e342"/>
<circle cx="274.5" cy="318.8" r="6.75" fill="#e6e342"/>
<circle cx="293.0" cy="308.8" r="6.75" fill="#e6e342"/>
<circle cx="336.8" cy="318.8" r="6.75" fill="#e6e342"/>
<circle cx="367.5" cy="320.5" r="6.75" fill="#e6e342"/>
<circle cx="429.5" cy="332.5" r="6.75" fill="#e6e342"/>
<circle cx="492.0" cy="344.5" r="6.75" fill="#e6e342"/>
<circle cx="567.0" cy="359.5" r="6.75" fill="#e6e342"/>
<circle cx="656.8" cy="380.0" r="6.75" fill="#e6e342"/>
<line x1="132.00" y1="283.00" x2="670.30" y2="376.50" stroke="#e6e342" stroke-width="2.3"/>
<circle cx="133.5" cy="230.5" r="6.75" fill="#e52114"/>
<circle cx="133.8" cy="238.0" r="6.75" fill="#e52114"/>
<circle cx="134.0" cy="250.0" r="6.75" fill="#e52114"/>
<circle cx="134.2" cy="273.5" r="6.75" fill="#ff0000"/>
<circle cx="135.5" cy="296.2" r="6.75" fill="#ff0000"/>
<circle cx="135.5" cy="312.5" r="6.75" fill="#ff0000"/>
<circle cx="137.5" cy="316.2" r="6.75" fill="#ff0000"/>
<circle cx="137.5" cy="322.5" r="6.75" fill="#ff0000"/>
<circle cx="143.8" cy="336.2" r="6.75" fill="#ff0000"/>
<circle cx="142.5" cy="342.5" r="6.75" fill="#ff0000"/>
<circle cx="148.8" cy="346.2" r="6.75" fill="#ff0000"/>
<circle cx="158.8" cy="347.5" r="6.75" fill="#ff0000"/>
<circle cx="165.0" cy="352.5" r="6.75" fill="#ff0000"/>
<circle cx="150.0" cy="355.0" r="6.75" fill="#ff0000"/>
<circle cx="157.5" cy="358.8" r="6.75" fill="#ff0000"/>
<circle cx="171.2" cy="363.8" r="6.75" fill="#ff0000"/>
<circle cx="186.2" cy="360.0" r="6.75" fill="#ff0000"/>
<circle cx="197.5" cy="367.1" r="6.75" fill="#ff0000"/>
<circle cx="211.3" cy="358.9" r="6.75" fill="#ff0000"/>
<circle cx="227.3" cy="368.3" r="6.75" fill="#ff0000"/>
<circle cx="237.8" cy="369.1" r="6.75" fill="#ff0000"/>
<circle cx="260.5" cy="377.6" r="6.75" fill="#ff0000"/>
<circle cx="287.9" cy="375.5" r="6.75" fill="#ff0000"/>
<circle cx="333.0" cy="385.5" r="6.75" fill="#ff0000"/>
<circle cx="374.2" cy="390.0" r="6.75" fill="#ff0000"/>
<circle cx="424.5" cy="397.0" r="6.75" fill="#ff0000"/>
<circle cx="486.2" cy="414.2" r="6.75" fill="#ff0000"/>
<circle cx="560.0" cy="423.2" r="6.75" fill="#ff0000"/>
<circle cx="630.0" cy="439.5" r="6.75" fill="#ff0000"/>
<line x1="132.00" y1="358.20" x2="670.30" y2="428.20" stroke="#ff0000" stroke-width="2.3"/>
<polyline points="908.2,124.2 912.7,127.7 919.2,128.7 924.7,130.2 930.7,132.5 942.7,132.5 948.7,133.2 955.2,134.7 961.2,135.8 967.2,137.0 973.5,140.7 976.8,137.0 982.8,141.0 991.5,142.0 998.2,143.3 1003.5,145.7 1010.0,148.0 1016.2,149.3 1022.5,156.5 1028.8,160.5 1034.8,166.5 1040.0,175.0 1047.5,190.8 1052.5,206.7 1060.0,215.8 1065.0,197.5 1072.5,198.3 1078.7,200.8 1085.0,211.7 1090.5,237.0 1097.5,223.3 1104.2,223.3 1109.5,235.0 1116.5,264.5 1123.0,242.0" fill="none" stroke="#bd80ff" stroke-width="1.2" stroke-linejoin="round"/>
<polyline points="1017.0,139.1 1039.3,154.0 1055.8,174.6 1069.2,185.9 1080.1,190.0 1090.0,200.8 1098.0,210.0 1105.3,211.0 1112.3,218.2 1118.4,225.8 1123.8,224.7 1129.0,228.4 1133.3,236.6 1138.3,236.4 1142.4,237.8 1146.2,244.1 1150.2,247.0 1153.5,250.0 1156.7,252.3 1155.6,257.2 1164.3,265.2 1171.3,271.7 1177.9,277.2 1184.1,282.8" fill="none" stroke="#bd80ff" stroke-width="1.2" stroke-linejoin="round"/>
<polyline points="1333.7,352.5 1333.7,375.8" fill="none" stroke="#bd80ff" stroke-width="1.2" stroke-linejoin="round"/>
<polyline points="1484.0,378.0 1484.0,395.8 1487.0,380.0" fill="none" stroke="#bd80ff" stroke-width="1.2" stroke-linejoin="round"/>
<circle cx="908.2" cy="124.2" r="3.5" fill="#bd80ff"/>
<circle cx="912.7" cy="127.7" r="3.5" fill="#bd80ff"/>
<circle cx="919.2" cy="128.7" r="3.5" fill="#bd80ff"/>
<circle cx="924.7" cy="130.2" r="3.5" fill="#bd80ff"/>
<circle cx="930.7" cy="132.5" r="3.5" fill="#bd80ff"/>
<circle cx="942.7" cy="132.5" r="3.5" fill="#bd80ff"/>
<circle cx="948.7" cy="133.2" r="3.5" fill="#bd80ff"/>
<circle cx="955.2" cy="134.7" r="3.5" fill="#bd80ff"/>
<circle cx="961.2" cy="135.8" r="3.5" fill="#bd80ff"/>
<circle cx="967.2" cy="137.0" r="3.5" fill="#bd80ff"/>
<circle cx="973.5" cy="140.7" r="3.5" fill="#bd80ff"/>
<circle cx="976.8" cy="137.0" r="3.5" fill="#bd80ff"/>
<circle cx="982.8" cy="141.0" r="3.5" fill="#bd80ff"/>
<circle cx="991.5" cy="142.0" r="3.5" fill="#bd80ff"/>
<circle cx="998.2" cy="143.3" r="3.5" fill="#bd80ff"/>
<circle cx="1003.5" cy="145.7" r="3.5" fill="#bd80ff"/>
<circle cx="1010.0" cy="148.0" r="3.5" fill="#bd80ff"/>
<circle cx="1016.2" cy="149.3" r="3.5" fill="#bd80ff"/>
<circle cx="1022.5" cy="156.5" r="3.5" fill="#bd80ff"/>
<circle cx="1028.8" cy="160.5" r="3.5" fill="#bd80ff"/>
<circle cx="1034.8" cy="166.5" r="3.5" fill="#bd80ff"/>
<circle cx="1040.0" cy="175.0" r="3.5" fill="#bd80ff"/>
<circle cx="1047.5" cy="190.8" r="3.5" fill="#bd80ff"/>
<circle cx="1052.5" cy="206.7" r="3.5" fill="#bd80ff"/>
<circle cx="1060.0" cy="215.8" r="3.5" fill="#bd80ff"/>
<circle cx="1065.0" cy="197.5" r="3.5" fill="#bd80ff"/>
<circle cx="1072.5" cy="198.3" r="3.5" fill="#bd80ff"/>
<circle cx="1078.7" cy="200.8" r="3.5" fill="#bd80ff"/>
<circle cx="1085.0" cy="211.7" r="3.5" fill="#bd80ff"/>
<circle cx="1090.5" cy="237.0" r="3.5" fill="#bd80ff"/>
<circle cx="1097.5" cy="223.3" r="3.5" fill="#bd80ff"/>
<circle cx="1104.2" cy="223.3" r="3.5" fill="#bd80ff"/>
<circle cx="1109.5" cy="235.0" r="3.5" fill="#bd80ff"/>
<circle cx="1116.5" cy="264.5" r="3.5" fill="#bd80ff"/>
<circle cx="1123.0" cy="242.0" r="3.5" fill="#bd80ff"/>
<circle cx="1017.0" cy="139.1" r="3.5" fill="#bd80ff"/>
<circle cx="1039.3" cy="154.0" r="3.5" fill="#bd80ff"/>
<circle cx="1055.8" cy="174.6" r="3.5" fill="#bd80ff"/>
<circle cx="1069.2" cy="185.9" r="3.5" fill="#bd80ff"/>
<circle cx="1080.1" cy="190.0" r="3.5" fill="#bd80ff"/>
<circle cx="1090.0" cy="200.8" r="3.5" fill="#bd80ff"/>
<circle cx="1098.0" cy="210.0" r="3.5" fill="#bd80ff"/>
<circle cx="1105.3" cy="211.0" r="3.5" fill="#bd80ff"/>
<circle cx="1112.3" cy="218.2" r="3.5" fill="#bd80ff"/>
<circle cx="1118.4" cy="225.8" r="3.5" fill="#bd80ff"/>
<circle cx="1123.8" cy="224.7" r="3.5" fill="#bd80ff"/>
<circle cx="1129.0" cy="228.4" r="3.5" fill="#bd80ff"/>
<circle cx="1133.3" cy="236.6" r="3.5" fill="#bd80ff"/>
<circle cx="1138.3" cy="236.4" r="3.5" fill="#bd80ff"/>
<circle cx="1142.4" cy="237.8" r="3.5" fill="#bd80ff"/>
<circle cx="1146.2" cy="244.1" r="3.5" fill="#bd80ff"/>
<circle cx="1150.2" cy="247.0" r="3.5" fill="#bd80ff"/>
<circle cx="1153.5" cy="250.0" r="3.5" fill="#bd80ff"/>
<circle cx="1156.7" cy="252.3" r="3.5" fill="#bd80ff"/>
<circle cx="1155.6" cy="257.2" r="3.5" fill="#bd80ff"/>
<circle cx="1164.3" cy="265.2" r="3.5" fill="#bd80ff"/>
<circle cx="1171.3" cy="271.7" r="3.5" fill="#bd80ff"/>
<circle cx="1177.9" cy="277.2" r="3.5" fill="#bd80ff"/>
<circle cx="1184.1" cy="281.9" r="3.5" fill="#bd80ff"/>
<circle cx="1189.0" cy="286.3" r="3.5" fill="#bd80ff"/>
<circle cx="1193.6" cy="290.7" r="3.5" fill="#bd80ff"/>
<circle cx="1197.9" cy="293.5" r="3.5" fill="#bd80ff"/>
<circle cx="1201.9" cy="295.6" r="3.5" fill="#bd80ff"/>
<circle cx="1205.7" cy="299.0" r="3.5" fill="#bd80ff"/>
<circle cx="1209.3" cy="301.9" r="3.5" fill="#bd80ff"/>
<circle cx="1212.7" cy="304.9" r="3.5" fill="#bd80ff"/>
<circle cx="1215.9" cy="305.4" r="3.5" fill="#bd80ff"/>
<circle cx="1218.9" cy="307.2" r="3.5" fill="#bd80ff"/>
<circle cx="1221.9" cy="310.5" r="3.5" fill="#bd80ff"/>
<circle cx="1224.7" cy="312.1" r="3.5" fill="#bd80ff"/>
<circle cx="1227.3" cy="314.9" r="3.5" fill="#bd80ff"/>
<circle cx="1229.9" cy="316.3" r="3.5" fill="#bd80ff"/>
<circle cx="1232.4" cy="316.9" r="3.5" fill="#bd80ff"/>
<circle cx="1234.8" cy="317.9" r="3.5" fill="#bd80ff"/>
<circle cx="1237.1" cy="321.3" r="3.5" fill="#bd80ff"/>
<circle cx="1239.3" cy="319.9" r="3.5" fill="#bd80ff"/>
<circle cx="1241.4" cy="320.6" r="3.5" fill="#bd80ff"/>
<circle cx="1243.5" cy="321.4" r="3.5" fill="#bd80ff"/>
<circle cx="1245.5" cy="323.6" r="3.5" fill="#bd80ff"/>
<circle cx="1247.5" cy="324.7" r="3.5" fill="#bd80ff"/>
<circle cx="1249.4" cy="325.1" r="3.5" fill="#bd80ff"/>
<circle cx="1251.2" cy="326.1" r="3.5" fill="#bd80ff"/>
<circle cx="1253.0" cy="327.1" r="3.5" fill="#bd80ff"/>
<circle cx="1254.8" cy="328.2" r="3.5" fill="#bd80ff"/>
<circle cx="1256.5" cy="329.2" r="3.5" fill="#bd80ff"/>
<circle cx="1258.1" cy="329.2" r="3.5" fill="#bd80ff"/>
<circle cx="1259.8" cy="328.2" r="3.5" fill="#bd80ff"/>
<circle cx="1261.3" cy="331.3" r="3.5" fill="#bd80ff"/>
<circle cx="1262.9" cy="330.1" r="3.5" fill="#bd80ff"/>
<circle cx="1264.4" cy="332.0" r="3.5" fill="#bd80ff"/>
<circle cx="1265.9" cy="331.4" r="3.5" fill="#bd80ff"/>
<circle cx="1267.3" cy="333.3" r="3.5" fill="#bd80ff"/>
<circle cx="1268.7" cy="333.1" r="3.5" fill="#bd80ff"/>
<circle cx="1270.1" cy="334.5" r="3.5" fill="#bd80ff"/>
<circle cx="1271.4" cy="338.1" r="3.5" fill="#bd80ff"/>
<circle cx="1272.8" cy="335.3" r="3.5" fill="#bd80ff"/>
<circle cx="1274.1" cy="336.6" r="3.5" fill="#bd80ff"/>
<circle cx="1275.3" cy="334.8" r="3.5" fill="#bd80ff"/>
<circle cx="1276.6" cy="336.2" r="3.5" fill="#bd80ff"/>
<circle cx="1277.8" cy="337.5" r="3.5" fill="#bd80ff"/>
<circle cx="1279.0" cy="337.1" r="3.5" fill="#bd80ff"/>
<circle cx="1280.2" cy="337.9" r="3.5" fill="#bd80ff"/>
<circle cx="1281.3" cy="338.0" r="3.5" fill="#bd80ff"/>
<circle cx="1282.5" cy="337.2" r="3.5" fill="#bd80ff"/>
<circle cx="1283.6" cy="339.3" r="3.5" fill="#bd80ff"/>
<circle cx="1284.7" cy="338.2" r="3.5" fill="#bd80ff"/>
<circle cx="1285.8" cy="341.4" r="3.5" fill="#bd80ff"/>
<circle cx="1286.8" cy="339.3" r="3.5" fill="#bd80ff"/>
<circle cx="1287.9" cy="341.0" r="3.5" fill="#bd80ff"/>
<circle cx="1288.9" cy="340.6" r="3.5" fill="#bd80ff"/>
<circle cx="1289.9" cy="342.0" r="3.5" fill="#bd80ff"/>
<circle cx="1290.9" cy="340.7" r="3.5" fill="#bd80ff"/>
<circle cx="1291.9" cy="342.7" r="3.5" fill="#bd80ff"/>
<circle cx="1292.9" cy="341.8" r="3.5" fill="#bd80ff"/>
<circle cx="1293.9" cy="343.6" r="3.5" fill="#bd80ff"/>
<circle cx="1294.8" cy="343.2" r="3.5" fill="#bd80ff"/>
<circle cx="1295.7" cy="343.0" r="3.5" fill="#bd80ff"/>
<circle cx="1296.6" cy="342.3" r="3.5" fill="#bd80ff"/>
<circle cx="1297.6" cy="344.3" r="3.5" fill="#bd80ff"/>
<circle cx="1298.4" cy="344.3" r="3.5" fill="#bd80ff"/>
<circle cx="1299.3" cy="345.8" r="3.5" fill="#bd80ff"/>
<circle cx="1300.2" cy="343.9" r="3.5" fill="#bd80ff"/>
<circle cx="1301.1" cy="345.2" r="3.5" fill="#bd80ff"/>
<circle cx="1301.9" cy="345.5" r="3.5" fill="#bd80ff"/>
<circle cx="1302.7" cy="345.5" r="3.5" fill="#bd80ff"/>
<circle cx="1303.6" cy="345.7" r="3.5" fill="#bd80ff"/>
<circle cx="1304.4" cy="345.9" r="3.5" fill="#bd80ff"/>
<circle cx="1305.2" cy="345.3" r="3.5" fill="#bd80ff"/>
<circle cx="1306.0" cy="345.1" r="3.5" fill="#bd80ff"/>
<circle cx="1306.8" cy="346.1" r="3.5" fill="#bd80ff"/>
<circle cx="1307.6" cy="347.4" r="3.5" fill="#bd80ff"/>
<circle cx="1308.4" cy="348.6" r="3.5" fill="#bd80ff"/>
<circle cx="1309.2" cy="348.1" r="3.5" fill="#bd80ff"/>
<circle cx="1310.0" cy="348.4" r="3.5" fill="#bd80ff"/>
<circle cx="1310.8" cy="348.3" r="3.5" fill="#bd80ff"/>
<circle cx="1311.6" cy="348.4" r="3.5" fill="#bd80ff"/>
<circle cx="1312.4" cy="347.9" r="3.5" fill="#bd80ff"/>
<circle cx="1313.2" cy="348.8" r="3.5" fill="#bd80ff"/>
<circle cx="1314.0" cy="350.1" r="3.5" fill="#bd80ff"/>
<circle cx="1314.8" cy="347.9" r="3.5" fill="#bd80ff"/>
<circle cx="1315.6" cy="347.6" r="3.5" fill="#bd80ff"/>
<circle cx="1316.4" cy="350.8" r="3.5" fill="#bd80ff"/>
<circle cx="1317.2" cy="348.9" r="3.5" fill="#bd80ff"/>
<circle cx="1318.0" cy="349.9" r="3.5" fill="#bd80ff"/>
<circle cx="1318.8" cy="349.9" r="3.5" fill="#bd80ff"/>
<circle cx="1319.6" cy="347.6" r="3.5" fill="#bd80ff"/>
<circle cx="1320.4" cy="352.0" r="3.5" fill="#bd80ff"/>
<circle cx="1321.2" cy="351.3" r="3.5" fill="#bd80ff"/>
<circle cx="1322.0" cy="349.5" r="3.5" fill="#bd80ff"/>
<circle cx="1322.8" cy="350.3" r="3.5" fill="#bd80ff"/>
<circle cx="1323.6" cy="349.7" r="3.5" fill="#bd80ff"/>
<circle cx="1324.4" cy="348.7" r="3.5" fill="#bd80ff"/>
<circle cx="1325.2" cy="349.9" r="3.5" fill="#bd80ff"/>
<circle cx="1326.0" cy="350.7" r="3.5" fill="#bd80ff"/>
<circle cx="1326.8" cy="351.8" r="3.5" fill="#bd80ff"/>
<circle cx="1327.6" cy="351.5" r="3.5" fill="#bd80ff"/>
<circle cx="1328.4" cy="350.9" r="3.5" fill="#bd80ff"/>
<circle cx="1329.2" cy="352.7" r="3.5" fill="#bd80ff"/>
<circle cx="1330.0" cy="350.3" r="3.5" fill="#bd80ff"/>
<circle cx="1330.8" cy="352.4" r="3.5" fill="#bd80ff"/>
<circle cx="1331.6" cy="353.0" r="3.5" fill="#bd80ff"/>
<circle cx="1332.4" cy="351.5" r="3.5" fill="#bd80ff"/>
<circle cx="1333.2" cy="349.8" r="3.5" fill="#bd80ff"/>
<circle cx="1334.0" cy="351.1" r="3.5" fill="#bd80ff"/>
<circle cx="1334.8" cy="352.7" r="3.5" fill="#bd80ff"/>
<circle cx="1335.6" cy="353.3" r="3.5" fill="#bd80ff"/>
<circle cx="1336.4" cy="354.8" r="3.5" fill="#bd80ff"/>
<circle cx="1337.2" cy="351.8" r="3.5" fill="#bd80ff"/>
<circle cx="1338.0" cy="353.2" r="3.5" fill="#bd80ff"/>
<circle cx="1338.8" cy="354.2" r="3.5" fill="#bd80ff"/>
<circle cx="1339.6" cy="353.4" r="3.5" fill="#bd80ff"/>
<circle cx="1340.4" cy="350.8" r="3.5" fill="#bd80ff"/>
<circle cx="1341.2" cy="354.9" r="3.5" fill="#bd80ff"/>
<circle cx="1342.0" cy="357.0" r="3.5" fill="#bd80ff"/>
<circle cx="1342.8" cy="355.5" r="3.5" fill="#bd80ff"/>
<circle cx="1343.6" cy="353.2" r="3.5" fill="#bd80ff"/>
<circle cx="1344.4" cy="354.0" r="3.5" fill="#bd80ff"/>
<circle cx="1345.2" cy="355.0" r="3.5" fill="#bd80ff"/>
<circle cx="1346.0" cy="358.0" r="3.5" fill="#bd80ff"/>
<circle cx="1346.8" cy="355.8" r="3.5" fill="#bd80ff"/>
<circle cx="1347.6" cy="355.3" r="3.5" fill="#bd80ff"/>
<circle cx="1348.4" cy="357.3" r="3.5" fill="#bd80ff"/>
<circle cx="1349.2" cy="355.4" r="3.5" fill="#bd80ff"/>
<circle cx="1350.0" cy="358.2" r="3.5" fill="#bd80ff"/>
<circle cx="1350.8" cy="355.1" r="3.5" fill="#bd80ff"/>
<circle cx="1351.6" cy="355.5" r="3.5" fill="#bd80ff"/>
<circle cx="1352.4" cy="357.3" r="3.5" fill="#bd80ff"/>
<circle cx="1353.2" cy="358.4" r="3.5" fill="#bd80ff"/>
<circle cx="1354.0" cy="357.6" r="3.5" fill="#bd80ff"/>
<circle cx="1354.8" cy="357.4" r="3.5" fill="#bd80ff"/>
<circle cx="1355.6" cy="354.8" r="3.5" fill="#bd80ff"/>
<circle cx="1356.4" cy="356.5" r="3.5" fill="#bd80ff"/>
<circle cx="1357.2" cy="356.8" r="3.5" fill="#bd80ff"/>
<circle cx="1358.0" cy="357.2" r="3.5" fill="#bd80ff"/>
<circle cx="1358.8" cy="358.9" r="3.5" fill="#bd80ff"/>
<circle cx="1359.6" cy="357.9" r="3.5" fill="#bd80ff"/>
<circle cx="1360.4" cy="359.7" r="3.5" fill="#bd80ff"/>
<circle cx="1361.2" cy="359.0" r="3.5" fill="#bd80ff"/>
<circle cx="1362.0" cy="358.6" r="3.5" fill="#bd80ff"/>
<circle cx="1362.8" cy="359.5" r="3.5" fill="#bd80ff"/>
<circle cx="1363.6" cy="360.2" r="3.5" fill="#bd80ff"/>
<circle cx="1364.4" cy="361.0" r="3.5" fill="#bd80ff"/>
<circle cx="1365.2" cy="359.4" r="3.5" fill="#bd80ff"/>
<circle cx="1366.0" cy="359.8" r="3.5" fill="#bd80ff"/>
<circle cx="1366.8" cy="358.4" r="3.5" fill="#bd80ff"/>
<circle cx="1367.6" cy="362.6" r="3.5" fill="#bd80ff"/>
<circle cx="1368.4" cy="362.5" r="3.5" fill="#bd80ff"/>
<circle cx="1369.2" cy="360.4" r="3.5" fill="#bd80ff"/>
<circle cx="1370.0" cy="360.1" r="3.5" fill="#bd80ff"/>
<circle cx="1370.8" cy="359.2" r="3.5" fill="#bd80ff"/>
<circle cx="1371.6" cy="361.3" r="3.5" fill="#bd80ff"/>
<circle cx="1372.4" cy="361.4" r="3.5" fill="#bd80ff"/>
<circle cx="1373.2" cy="364.3" r="3.5" fill="#bd80ff"/>
<circle cx="1374.0" cy="361.8" r="3.5" fill="#bd80ff"/>
<circle cx="1374.8" cy="360.5" r="3.5" fill="#bd80ff"/>
<circle cx="1375.6" cy="358.3" r="3.5" fill="#bd80ff"/>
<circle cx="1376.4" cy="363.9" r="3.5" fill="#bd80ff"/>
<circle cx="1377.2" cy="362.4" r="3.5" fill="#bd80ff"/>
<circle cx="1378.0" cy="360.0" r="3.5" fill="#bd80ff"/>
<circle cx="1378.8" cy="362.7" r="3.5" fill="#bd80ff"/>
<circle cx="1379.6" cy="360.3" r="3.5" fill="#bd80ff"/>
<circle cx="1380.4" cy="367.7" r="3.5" fill="#bd80ff"/>
<circle cx="1381.2" cy="364.5" r="3.5" fill="#bd80ff"/>
<circle cx="1382.0" cy="363.9" r="3.5" fill="#bd80ff"/>
<circle cx="1382.8" cy="363.0" r="3.5" fill="#bd80ff"/>
<circle cx="1383.6" cy="360.5" r="3.5" fill="#bd80ff"/>
<circle cx="1384.4" cy="363.6" r="3.5" fill="#bd80ff"/>
<circle cx="1385.2" cy="361.7" r="3.5" fill="#bd80ff"/>
<circle cx="1386.0" cy="365.0" r="3.5" fill="#bd80ff"/>
<circle cx="1386.8" cy="361.3" r="3.5" fill="#bd80ff"/>
<circle cx="1387.6" cy="363.3" r="3.5" fill="#bd80ff"/>
<circle cx="1388.4" cy="366.6" r="3.5" fill="#bd80ff"/>
<circle cx="1389.2" cy="367.5" r="3.5" fill="#bd80ff"/>
<circle cx="1390.0" cy="363.6" r="3.5" fill="#bd80ff"/>
<circle cx="1390.8" cy="363.2" r="3.5" fill="#bd80ff"/>
<circle cx="1391.6" cy="366.8" r="3.5" fill="#bd80ff"/>
<circle cx="1392.4" cy="366.9" r="3.5" fill="#bd80ff"/>
<circle cx="1393.2" cy="364.3" r="3.5" fill="#bd80ff"/>
<circle cx="1394.0" cy="364.9" r="3.5" fill="#bd80ff"/>
<circle cx="1394.8" cy="365.0" r="3.5" fill="#bd80ff"/>
<circle cx="1395.6" cy="364.4" r="3.5" fill="#bd80ff"/>
<circle cx="1396.4" cy="365.2" r="3.5" fill="#bd80ff"/>
<circle cx="1397.2" cy="368.2" r="3.5" fill="#bd80ff"/>
<circle cx="1398.0" cy="367.5" r="3.5" fill="#bd80ff"/>
<circle cx="1398.8" cy="369.7" r="3.5" fill="#bd80ff"/>
<circle cx="1399.6" cy="366.6" r="3.5" fill="#bd80ff"/>
<circle cx="1400.4" cy="366.7" r="3.5" fill="#bd80ff"/>
<circle cx="1401.2" cy="365.5" r="3.5" fill="#bd80ff"/>
<circle cx="1402.0" cy="366.9" r="3.5" fill="#bd80ff"/>
<circle cx="1402.8" cy="365.3" r="3.5" fill="#bd80ff"/>
<circle cx="1403.6" cy="364.7" r="3.5" fill="#bd80ff"/>
<circle cx="1404.4" cy="368.5" r="3.5" fill="#bd80ff"/>
<circle cx="1405.2" cy="369.8" r="3.5" fill="#bd80ff"/>
<circle cx="1406.0" cy="369.0" r="3.5" fill="#bd80ff"/>
<circle cx="1406.8" cy="369.9" r="3.5" fill="#bd80ff"/>
<circle cx="1407.6" cy="368.4" r="3.5" fill="#bd80ff"/>
<circle cx="1408.4" cy="367.1" r="3.5" fill="#bd80ff"/>
<circle cx="1409.2" cy="368.4" r="3.5" fill="#bd80ff"/>
<circle cx="1410.0" cy="367.8" r="3.5" fill="#bd80ff"/>
<circle cx="1410.8" cy="366.9" r="3.5" fill="#bd80ff"/>
<circle cx="1411.6" cy="366.1" r="3.5" fill="#bd80ff"/>
<circle cx="1412.4" cy="366.6" r="3.5" fill="#bd80ff"/>
<circle cx="1413.2" cy="368.9" r="3.5" fill="#bd80ff"/>
<circle cx="1414.0" cy="369.3" r="3.5" fill="#bd80ff"/>
<circle cx="1414.8" cy="368.5" r="3.5" fill="#bd80ff"/>
<circle cx="1415.6" cy="371.4" r="3.5" fill="#bd80ff"/>
<circle cx="1416.4" cy="369.7" r="3.5" fill="#bd80ff"/>
<circle cx="1417.2" cy="370.4" r="3.5" fill="#bd80ff"/>
<circle cx="1418.0" cy="371.5" r="3.5" fill="#bd80ff"/>
<circle cx="1418.8" cy="368.6" r="3.5" fill="#bd80ff"/>
<circle cx="1419.6" cy="367.0" r="3.5" fill="#bd80ff"/>
<circle cx="1420.4" cy="371.2" r="3.5" fill="#bd80ff"/>
<circle cx="1421.2" cy="369.1" r="3.5" fill="#bd80ff"/>
<circle cx="1422.0" cy="372.3" r="3.5" fill="#bd80ff"/>
<circle cx="1422.8" cy="370.9" r="3.5" fill="#bd80ff"/>
<circle cx="1423.6" cy="372.1" r="3.5" fill="#bd80ff"/>
<circle cx="1424.4" cy="371.9" r="3.5" fill="#bd80ff"/>
<circle cx="1425.2" cy="367.8" r="3.5" fill="#bd80ff"/>
<circle cx="1426.0" cy="372.2" r="3.5" fill="#bd80ff"/>
<circle cx="1426.8" cy="370.3" r="3.5" fill="#bd80ff"/>
<circle cx="1427.6" cy="370.4" r="3.5" fill="#bd80ff"/>
<circle cx="1428.4" cy="371.1" r="3.5" fill="#bd80ff"/>
<circle cx="1429.2" cy="373.0" r="3.5" fill="#bd80ff"/>
<circle cx="1430.0" cy="373.4" r="3.5" fill="#bd80ff"/>
<circle cx="1430.8" cy="373.8" r="3.5" fill="#bd80ff"/>
<circle cx="1431.6" cy="370.0" r="3.5" fill="#bd80ff"/>
<circle cx="1432.4" cy="371.8" r="3.5" fill="#bd80ff"/>
<circle cx="1433.2" cy="369.3" r="3.5" fill="#bd80ff"/>
<circle cx="1434.0" cy="372.9" r="3.5" fill="#bd80ff"/>
<circle cx="1434.8" cy="374.1" r="3.5" fill="#bd80ff"/>
<circle cx="1435.6" cy="372.2" r="3.5" fill="#bd80ff"/>
<circle cx="1436.4" cy="373.8" r="3.5" fill="#bd80ff"/>
<circle cx="1437.2" cy="373.8" r="3.5" fill="#bd80ff"/>
<circle cx="1438.0" cy="375.0" r="3.5" fill="#bd80ff"/>
<circle cx="1438.8" cy="372.4" r="3.5" fill="#bd80ff"/>
<circle cx="1439.6" cy="372.4" r="3.5" fill="#bd80ff"/>
<circle cx="1440.4" cy="372.6" r="3.5" fill="#bd80ff"/>
<circle cx="1441.2" cy="376.4" r="3.5" fill="#bd80ff"/>
<circle cx="1442.0" cy="375.5" r="3.5" fill="#bd80ff"/>
<circle cx="1442.8" cy="373.7" r="3.5" fill="#bd80ff"/>
<circle cx="1443.6" cy="374.3" r="3.5" fill="#bd80ff"/>
<circle cx="1444.4" cy="374.2" r="3.5" fill="#bd80ff"/>
<circle cx="1445.2" cy="374.4" r="3.5" fill="#bd80ff"/>
<circle cx="1446.0" cy="373.9" r="3.5" fill="#bd80ff"/>
<circle cx="1446.8" cy="373.8" r="3.5" fill="#bd80ff"/>
<circle cx="1447.6" cy="372.5" r="3.5" fill="#bd80ff"/>
<circle cx="1448.4" cy="373.6" r="3.5" fill="#bd80ff"/>
<circle cx="1449.2" cy="377.1" r="3.5" fill="#bd80ff"/>
<circle cx="1450.0" cy="375.6" r="3.5" fill="#bd80ff"/>
<circle cx="1450.8" cy="375.0" r="3.5" fill="#bd80ff"/>
<circle cx="1451.6" cy="374.7" r="3.5" fill="#bd80ff"/>
<circle cx="1452.4" cy="375.3" r="3.5" fill="#bd80ff"/>
<circle cx="1453.2" cy="375.8" r="3.5" fill="#bd80ff"/>
<circle cx="1454.0" cy="374.5" r="3.5" fill="#bd80ff"/>
<circle cx="1454.8" cy="375.9" r="3.5" fill="#bd80ff"/>
<circle cx="1455.6" cy="376.1" r="3.5" fill="#bd80ff"/>
<circle cx="1456.4" cy="374.7" r="3.5" fill="#bd80ff"/>
<circle cx="1457.2" cy="374.8" r="3.5" fill="#bd80ff"/>
<circle cx="1458.0" cy="374.6" r="3.5" fill="#bd80ff"/>
<circle cx="1458.8" cy="374.7" r="3.5" fill="#bd80ff"/>
<circle cx="1459.6" cy="377.8" r="3.5" fill="#bd80ff"/>
<circle cx="1460.4" cy="373.1" r="3.5" fill="#bd80ff"/>
<circle cx="1461.2" cy="376.5" r="3.5" fill="#bd80ff"/>
<circle cx="1462.0" cy="376.2" r="3.5" fill="#bd80ff"/>
<circle cx="1462.8" cy="376.3" r="3.5" fill="#bd80ff"/>
<circle cx="1463.6" cy="377.6" r="3.5" fill="#bd80ff"/>
<circle cx="1464.4" cy="379.3" r="3.5" fill="#bd80ff"/>
<circle cx="1465.2" cy="377.9" r="3.5" fill="#bd80ff"/>
<circle cx="1466.0" cy="377.8" r="3.5" fill="#bd80ff"/>
<circle cx="1466.8" cy="377.3" r="3.5" fill="#bd80ff"/>
<circle cx="1467.6" cy="378.2" r="3.5" fill="#bd80ff"/>
<circle cx="1468.4" cy="380.0" r="3.5" fill="#bd80ff"/>
<circle cx="1469.2" cy="378.1" r="3.5" fill="#bd80ff"/>
<circle cx="1470.0" cy="376.9" r="3.5" fill="#bd80ff"/>
<circle cx="1470.8" cy="376.6" r="3.5" fill="#bd80ff"/>
<circle cx="1471.6" cy="376.8" r="3.5" fill="#bd80ff"/>
<circle cx="1472.4" cy="376.3" r="3.5" fill="#bd80ff"/>
<circle cx="1473.2" cy="379.9" r="3.5" fill="#bd80ff"/>
<circle cx="1474.0" cy="378.7" r="3.5" fill="#bd80ff"/>
<circle cx="1474.8" cy="377.7" r="3.5" fill="#bd80ff"/>
<circle cx="1475.6" cy="380.2" r="3.5" fill="#bd80ff"/>
<circle cx="1476.4" cy="377.0" r="3.5" fill="#bd80ff"/>
<circle cx="1477.2" cy="379.0" r="3.5" fill="#bd80ff"/>
<circle cx="1478.0" cy="378.9" r="3.5" fill="#bd80ff"/>
<circle cx="1478.8" cy="375.0" r="3.5" fill="#bd80ff"/>
<circle cx="1479.6" cy="374.7" r="3.5" fill="#bd80ff"/>
<circle cx="1480.4" cy="375.2" r="3.5" fill="#bd80ff"/>
<circle cx="1481.2" cy="377.6" r="3.5" fill="#bd80ff"/>
<circle cx="1482.0" cy="377.9" r="3.5" fill="#bd80ff"/>
<circle cx="1482.8" cy="373.7" r="3.5" fill="#bd80ff"/>
<circle cx="1483.6" cy="376.8" r="3.5" fill="#bd80ff"/>
<circle cx="1484.4" cy="374.2" r="3.5" fill="#bd80ff"/>
<circle cx="1485.2" cy="373.7" r="3.5" fill="#bd80ff"/>
<circle cx="1486.0" cy="373.0" r="3.5" fill="#bd80ff"/>
<circle cx="1486.8" cy="372.8" r="3.5" fill="#bd80ff"/>
<circle cx="1487.6" cy="370.1" r="3.5" fill="#bd80ff"/>
<circle cx="1488.4" cy="370.9" r="3.5" fill="#bd80ff"/>
<circle cx="1333.7" cy="375.8" r="3.5" fill="#bd80ff"/>
<circle cx="1484.0" cy="395.8" r="3.5" fill="#bd80ff"/>
<circle cx="1483.0" cy="370.0" r="3.5" fill="#bd80ff"/>
<circle cx="1487.0" cy="367.5" r="3.5" fill="#bd80ff"/>
<circle cx="1489.0" cy="377.0" r="3.5" fill="#bd80ff"/>
<circle cx="1486.0" cy="381.0" r="3.5" fill="#bd80ff"/>
<polyline points="908.2,164.7 912.3,159.5 919.2,163.2 924.7,162.5 931.5,162.5 931.5,166.2 937.8,164.3 948.7,161.0 951.7,161.7 960.7,166.7 967.5,166.0 970.8,166.7 979.2,171.5 985.2,167.0 991.5,172.2 995.7,170.5 1003.5,174.5 1008.3,176.3 1016.2,178.2 1022.2,183.2 1028.5,188.7 1034.8,194.4 1040.0,204.2 1046.5,219.5 1053.2,238.0 1060.0,244.7 1066.0,228.2 1072.6,222.9 1078.0,228.5 1085.3,243.1 1097.8,255.3 1104.2,245.8 1111.2,270.5 1117.0,268.8 1122.8,261.8 1129.3,289.8" fill="none" stroke="#00ffff" stroke-width="1.2" stroke-linejoin="round"/>
<polyline points="1017.0,168.5 1039.5,183.3 1055.8,204.2 1069.2,215.8 1080.0,219.2 1090.2,230.5 1097.8,239.0 1105.3,239.6 1112.3,247.2 1118.2,255.1 1124.0,253.9 1128.9,258.3 1132.8,265.8 1138.3,267.0 1142.6,268.0 1146.5,272.0 1150.2,274.7 1153.2,280.7 1157.0,280.7 1155.5,286.7 1164.5,293.8 1171.2,300.7 1177.7,306.7 1184.0,311.2" fill="none" stroke="#00ffff" stroke-width="1.2" stroke-linejoin="round"/>
<polyline points="1487.0,400.0 1488.6,388.4 1487.9,395.1 1487.5,420.0 1487.2,447.6" fill="none" stroke="#00ffff" stroke-width="1.2" stroke-linejoin="round"/>
<circle cx="908.2" cy="164.7" r="3.5" fill="#00ffff"/>
<circle cx="912.3" cy="159.5" r="3.5" fill="#00ffff"/>
<circle cx="919.2" cy="163.2" r="3.5" fill="#00ffff"/>
<circle cx="924.7" cy="162.5" r="3.5" fill="#00ffff"/>
<circle cx="931.5" cy="162.5" r="3.5" fill="#00ffff"/>
<circle cx="931.5" cy="166.2" r="3.5" fill="#00ffff"/>
<circle cx="937.8" cy="164.3" r="3.5" fill="#00ffff"/>
<circle cx="948.7" cy="161.0" r="3.5" fill="#00ffff"/>
<circle cx="951.7" cy="161.7" r="3.5" fill="#00ffff"/>
<circle cx="960.7" cy="166.7" r="3.5" fill="#00ffff"/>
<circle cx="967.5" cy="166.0" r="3.5" fill="#00ffff"/>
<circle cx="970.8" cy="166.7" r="3.5" fill="#00ffff"/>
<circle cx="979.2" cy="171.5" r="3.5" fill="#00ffff"/>
<circle cx="985.2" cy="167.0" r="3.5" fill="#00ffff"/>
<circle cx="991.5" cy="172.2" r="3.5" fill="#00ffff"/>
<circle cx="995.7" cy="170.5" r="3.5" fill="#00ffff"/>
<circle cx="1003.5" cy="174.5" r="3.5" fill="#00ffff"/>
<circle cx="1008.3" cy="176.3" r="3.5" fill="#00ffff"/>
<circle cx="1016.2" cy="178.2" r="3.5" fill="#00ffff"/>
<circle cx="1022.2" cy="183.2" r="3.5" fill="#00ffff"/>
<circle cx="1028.5" cy="188.7" r="3.5" fill="#00ffff"/>
<circle cx="1034.8" cy="194.4" r="3.5" fill="#00ffff"/>
<circle cx="1040.0" cy="204.2" r="3.5" fill="#00ffff"/>
<circle cx="1046.5" cy="219.5" r="3.5" fill="#00ffff"/>
<circle cx="1053.2" cy="238.0" r="3.5" fill="#00ffff"/>
<circle cx="1060.0" cy="244.7" r="3.5" fill="#00ffff"/>
<circle cx="1066.0" cy="228.2" r="3.5" fill="#00ffff"/>
<circle cx="1072.6" cy="222.9" r="3.5" fill="#00ffff"/>
<circle cx="1078.0" cy="228.5" r="3.5" fill="#00ffff"/>
<circle cx="1085.3" cy="243.1" r="3.5" fill="#00ffff"/>
<circle cx="1097.8" cy="255.3" r="3.5" fill="#00ffff"/>
<circle cx="1104.2" cy="245.8" r="3.5" fill="#00ffff"/>
<circle cx="1111.2" cy="270.5" r="3.5" fill="#00ffff"/>
<circle cx="1117.0" cy="268.8" r="3.5" fill="#00ffff"/>
<circle cx="1122.8" cy="261.8" r="3.5" fill="#00ffff"/>
<circle cx="1129.3" cy="289.8" r="3.5" fill="#00ffff"/>
<circle cx="1017.0" cy="168.5" r="3.5" fill="#00ffff"/>
<circle cx="1039.5" cy="183.3" r="3.5" fill="#00ffff"/>
<circle cx="1055.8" cy="204.2" r="3.5" fill="#00ffff"/>
<circle cx="1069.2" cy="215.8" r="3.5" fill="#00ffff"/>
<circle cx="1080.0" cy="219.2" r="3.5" fill="#00ffff"/>
<circle cx="1090.2" cy="230.5" r="3.5" fill="#00ffff"/>
<circle cx="1097.8" cy="239.0" r="3.5" fill="#00ffff"/>
<circle cx="1105.3" cy="239.6" r="3.5" fill="#00ffff"/>
<circle cx="1112.3" cy="247.2" r="3.5" fill="#00ffff"/>
<circle cx="1118.2" cy="255.1" r="3.5" fill="#00ffff"/>
<circle cx="1124.0" cy="253.9" r="3.5" fill="#00ffff"/>
<circle cx="1128.9" cy="258.3" r="3.5" fill="#00ffff"/>
<circle cx="1132.8" cy="265.8" r="3.5" fill="#00ffff"/>
<circle cx="1138.3" cy="267.0" r="3.5" fill="#00ffff"/>
<circle cx="1142.6" cy="268.0" r="3.5" fill="#00ffff"/>
<circle cx="1146.5" cy="272.0" r="3.5" fill="#00ffff"/>
<circle cx="1150.2" cy="274.7" r="3.5" fill="#00ffff"/>
<circle cx="1153.2" cy="280.7" r="3.5" fill="#00ffff"/>
<circle cx="1157.0" cy="280.7" r="3.5" fill="#00ffff"/>
<circle cx="1155.5" cy="286.7" r="3.5" fill="#00ffff"/>
<circle cx="1164.5" cy="293.8" r="3.5" fill="#00ffff"/>
<circle cx="1171.2" cy="300.7" r="3.5" fill="#00ffff"/>
<circle cx="1177.7" cy="306.7" r="3.5" fill="#00ffff"/>
<circle cx="1184.0" cy="310.2" r="3.5" fill="#00ffff"/>
<circle cx="1189.0" cy="315.2" r="3.5" fill="#00ffff"/>
<circle cx="1193.6" cy="318.8" r="3.5" fill="#00ffff"/>
<circle cx="1197.8" cy="322.5" r="3.5" fill="#00ffff"/>
<circle cx="1201.9" cy="326.5" r="3.5" fill="#00ffff"/>
<circle cx="1205.6" cy="328.5" r="3.5" fill="#00ffff"/>
<circle cx="1209.2" cy="331.0" r="3.5" fill="#00ffff"/>
<circle cx="1212.6" cy="335.2" r="3.5" fill="#00ffff"/>
<circle cx="1215.8" cy="336.0" r="3.5" fill="#00ffff"/>
<circle cx="1218.9" cy="337.6" r="3.5" fill="#00ffff"/>
<circle cx="1221.8" cy="339.6" r="3.5" fill="#00ffff"/>
<circle cx="1224.6" cy="342.3" r="3.5" fill="#00ffff"/>
<circle cx="1227.3" cy="345.2" r="3.5" fill="#00ffff"/>
<circle cx="1229.9" cy="347.3" r="3.5" fill="#00ffff"/>
<circle cx="1232.3" cy="349.4" r="3.5" fill="#00ffff"/>
<circle cx="1234.7" cy="351.5" r="3.5" fill="#00ffff"/>
<circle cx="1237.0" cy="352.9" r="3.5" fill="#00ffff"/>
<circle cx="1239.3" cy="353.4" r="3.5" fill="#00ffff"/>
<circle cx="1241.4" cy="355.2" r="3.5" fill="#00ffff"/>
<circle cx="1243.5" cy="355.7" r="3.5" fill="#00ffff"/>
<circle cx="1245.5" cy="355.6" r="3.5" fill="#00ffff"/>
<circle cx="1247.5" cy="357.9" r="3.5" fill="#00ffff"/>
<circle cx="1249.4" cy="358.0" r="3.5" fill="#00ffff"/>
<circle cx="1251.2" cy="358.4" r="3.5" fill="#00ffff"/>
<circle cx="1253.0" cy="361.1" r="3.5" fill="#00ffff"/>
<circle cx="1254.8" cy="360.6" r="3.5" fill="#00ffff"/>
<circle cx="1256.5" cy="360.0" r="3.5" fill="#00ffff"/>
<circle cx="1258.1" cy="360.8" r="3.5" fill="#00ffff"/>
<circle cx="1259.7" cy="363.5" r="3.5" fill="#00ffff"/>
<circle cx="1261.3" cy="361.4" r="3.5" fill="#00ffff"/>
<circle cx="1262.9" cy="362.7" r="3.5" fill="#00ffff"/>
<circle cx="1264.4" cy="363.0" r="3.5" fill="#00ffff"/>
<circle cx="1265.8" cy="363.2" r="3.5" fill="#00ffff"/>
<circle cx="1267.3" cy="363.4" r="3.5" fill="#00ffff"/>
<circle cx="1268.7" cy="362.5" r="3.5" fill="#00ffff"/>
<circle cx="1270.1" cy="362.7" r="3.5" fill="#00ffff"/>
<circle cx="1271.4" cy="363.2" r="3.5" fill="#00ffff"/>
<circle cx="1272.7" cy="363.1" r="3.5" fill="#00ffff"/>
<circle cx="1274.0" cy="364.4" r="3.5" fill="#00ffff"/>
<circle cx="1275.3" cy="365.3" r="3.5" fill="#00ffff"/>
<circle cx="1276.6" cy="362.9" r="3.5" fill="#00ffff"/>
<circle cx="1277.8" cy="364.5" r="3.5" fill="#00ffff"/>
<circle cx="1279.0" cy="363.0" r="3.5" fill="#00ffff"/>
<circle cx="1280.2" cy="363.4" r="3.5" fill="#00ffff"/>
<circle cx="1281.3" cy="364.0" r="3.5" fill="#00ffff"/>
<circle cx="1282.5" cy="364.5" r="3.5" fill="#00ffff"/>
<circle cx="1283.6" cy="364.2" r="3.5" fill="#00ffff"/>
<circle cx="1284.7" cy="362.1" r="3.5" fill="#00ffff"/>
<circle cx="1285.8" cy="366.5" r="3.5" fill="#00ffff"/>
<circle cx="1286.8" cy="365.0" r="3.5" fill="#00ffff"/>
<circle cx="1287.9" cy="364.8" r="3.5" fill="#00ffff"/>
<circle cx="1288.9" cy="366.4" r="3.5" fill="#00ffff"/>
<circle cx="1289.9" cy="365.2" r="3.5" fill="#00ffff"/>
<circle cx="1290.9" cy="364.6" r="3.5" fill="#00ffff"/>
<circle cx="1291.9" cy="366.9" r="3.5" fill="#00ffff"/>
<circle cx="1292.9" cy="367.1" r="3.5" fill="#00ffff"/>
<circle cx="1293.8" cy="366.0" r="3.5" fill="#00ffff"/>
<circle cx="1294.8" cy="368.0" r="3.5" fill="#00ffff"/>
<circle cx="1295.7" cy="367.8" r="3.5" fill="#00ffff"/>
<circle cx="1296.6" cy="366.4" r="3.5" fill="#00ffff"/>
<circle cx="1297.5" cy="369.8" r="3.5" fill="#00ffff"/>
<circle cx="1298.4" cy="368.4" r="3.5" fill="#00ffff"/>
<circle cx="1299.3" cy="366.9" r="3.5" fill="#00ffff"/>
<circle cx="1300.2" cy="368.7" r="3.5" fill="#00ffff"/>
<circle cx="1301.0" cy="368.4" r="3.5" fill="#00ffff"/>
<circle cx="1301.9" cy="369.4" r="3.5" fill="#00ffff"/>
<circle cx="1302.7" cy="366.9" r="3.5" fill="#00ffff"/>
<circle cx="1303.5" cy="369.7" r="3.5" fill="#00ffff"/>
<circle cx="1304.4" cy="369.6" r="3.5" fill="#00ffff"/>
<circle cx="1305.2" cy="369.4" r="3.5" fill="#00ffff"/>
<circle cx="1306.0" cy="369.4" r="3.5" fill="#00ffff"/>
<circle cx="1306.8" cy="370.3" r="3.5" fill="#00ffff"/>
<circle cx="1307.6" cy="369.7" r="3.5" fill="#00ffff"/>
<circle cx="1308.4" cy="369.2" r="3.5" fill="#00ffff"/>
<circle cx="1309.2" cy="368.2" r="3.5" fill="#00ffff"/>
<circle cx="1310.0" cy="370.6" r="3.5" fill="#00ffff"/>
<circle cx="1310.8" cy="370.5" r="3.5" fill="#00ffff"/>
<circle cx="1311.6" cy="369.9" r="3.5" fill="#00ffff"/>
<circle cx="1312.4" cy="369.8" r="3.5" fill="#00ffff"/>
<circle cx="1313.2" cy="370.6" r="3.5" fill="#00ffff"/>
<circle cx="1314.0" cy="367.0" r="3.5" fill="#00ffff"/>
<circle cx="1314.8" cy="370.4" r="3.5" fill="#00ffff"/>
<circle cx="1315.6" cy="367.2" r="3.5" fill="#00ffff"/>
<circle cx="1316.4" cy="370.6" r="3.5" fill="#00ffff"/>
<circle cx="1317.2" cy="371.8" r="3.5" fill="#00ffff"/>
<circle cx="1318.0" cy="372.9" r="3.5" fill="#00ffff"/>
<circle cx="1318.8" cy="370.3" r="3.5" fill="#00ffff"/>
<circle cx="1319.6" cy="371.5" r="3.5" fill="#00ffff"/>
<circle cx="1320.4" cy="371.1" r="3.5" fill="#00ffff"/>
<circle cx="1321.2" cy="368.6" r="3.5" fill="#00ffff"/>
<circle cx="1322.0" cy="372.4" r="3.5" fill="#00ffff"/>
<circle cx="1322.8" cy="371.6" r="3.5" fill="#00ffff"/>
<circle cx="1323.6" cy="371.9" r="3.5" fill="#00ffff"/>
<circle cx="1324.4" cy="370.7" r="3.5" fill="#00ffff"/>
<circle cx="1325.2" cy="371.9" r="3.5" fill="#00ffff"/>
<circle cx="1326.0" cy="372.1" r="3.5" fill="#00ffff"/>
<circle cx="1326.8" cy="373.7" r="3.5" fill="#00ffff"/>
<circle cx="1327.6" cy="372.5" r="3.5" fill="#00ffff"/>
<circle cx="1328.4" cy="376.5" r="3.5" fill="#00ffff"/>
<circle cx="1329.2" cy="371.8" r="3.5" fill="#00ffff"/>
<circle cx="1330.0" cy="372.1" r="3.5" fill="#00ffff"/>
<circle cx="1330.8" cy="372.4" r="3.5" fill="#00ffff"/>
<circle cx="1331.6" cy="371.5" r="3.5" fill="#00ffff"/>
<circle cx="1332.4" cy="374.6" r="3.5" fill="#00ffff"/>
<circle cx="1333.2" cy="373.8" r="3.5" fill="#00ffff"/>
<circle cx="1334.0" cy="371.6" r="3.5" fill="#00ffff"/>
<circle cx="1334.8" cy="373.6" r="3.5" fill="#00ffff"/>
<circle cx="1335.6" cy="375.2" r="3.5" fill="#00ffff"/>
<circle cx="1336.4" cy="372.2" r="3.5" fill="#00ffff"/>
<circle cx="1337.2" cy="374.4" r="3.5" fill="#00ffff"/>
<circle cx="1338.0" cy="374.1" r="3.5" fill="#00ffff"/>
<circle cx="1338.8" cy="377.7" r="3.5" fill="#00ffff"/>
<circle cx="1339.6" cy="375.5" r="3.5" fill="#00ffff"/>
<circle cx="1340.4" cy="374.6" r="3.5" fill="#00ffff"/>
<circle cx="1341.2" cy="374.6" r="3.5" fill="#00ffff"/>
<circle cx="1342.0" cy="377.9" r="3.5" fill="#00ffff"/>
<circle cx="1342.8" cy="375.0" r="3.5" fill="#00ffff"/>
<circle cx="1343.6" cy="378.7" r="3.5" fill="#00ffff"/>
<circle cx="1344.4" cy="373.9" r="3.5" fill="#00ffff"/>
<circle cx="1345.2" cy="375.9" r="3.5" fill="#00ffff"/>
<circle cx="1346.0" cy="376.0" r="3.5" fill="#00ffff"/>
<circle cx="1346.8" cy="375.5" r="3.5" fill="#00ffff"/>
<circle cx="1347.6" cy="376.3" r="3.5" fill="#00ffff"/>
<circle cx="1348.4" cy="377.7" r="3.5" fill="#00ffff"/>
<circle cx="1349.2" cy="376.1" r="3.5" fill="#00ffff"/>
<circle cx="1350.0" cy="375.2" r="3.5" fill="#00ffff"/>
<circle cx="1350.8" cy="379.0" r="3.5" fill="#00ffff"/>
<circle cx="1351.6" cy="379.3" r="3.5" fill="#00ffff"/>
<circle cx="1352.4" cy="376.6" r="3.5" fill="#00ffff"/>
<circle cx="1353.2" cy="378.1" r="3.5" fill="#00ffff"/>
<circle cx="1354.0" cy="374.4" r="3.5" fill="#00ffff"/>
<circle cx="1354.8" cy="379.4" r="3.5" fill="#00ffff"/>
<circle cx="1355.6" cy="376.4" r="3.5" fill="#00ffff"/>
<circle cx="1356.4" cy="377.6" r="3.5" fill="#00ffff"/>
<circle cx="1357.2" cy="381.4" r="3.5" fill="#00ffff"/>
<circle cx="1358.0" cy="377.0" r="3.5" fill="#00ffff"/>
<circle cx="1358.8" cy="378.9" r="3.5" fill="#00ffff"/>
<circle cx="1359.6" cy="377.6" r="3.5" fill="#00ffff"/>
<circle cx="1360.4" cy="376.7" r="3.5" fill="#00ffff"/>
<circle cx="1361.2" cy="377.8" r="3.5" fill="#00ffff"/>
<circle cx="1362.0" cy="380.0" r="3.5" fill="#00ffff"/>
<circle cx="1362.8" cy="378.0" r="3.5" fill="#00ffff"/>
<circle cx="1363.6" cy="379.2" r="3.5" fill="#00ffff"/>
<circle cx="1364.4" cy="381.2" r="3.5" fill="#00ffff"/>
<circle cx="1365.2" cy="380.2" r="3.5" fill="#00ffff"/>
<circle cx="1366.0" cy="378.8" r="3.5" fill="#00ffff"/>
<circle cx="1366.8" cy="382.9" r="3.5" fill="#00ffff"/>
<circle cx="1367.6" cy="381.2" r="3.5" fill="#00ffff"/>
<circle cx="1368.4" cy="383.2" r="3.5" fill="#00ffff"/>
<circle cx="1369.2" cy="380.0" r="3.5" fill="#00ffff"/>
<circle cx="1370.0" cy="384.0" r="3.5" fill="#00ffff"/>
<circle cx="1370.8" cy="380.0" r="3.5" fill="#00ffff"/>
<circle cx="1371.6" cy="379.7" r="3.5" fill="#00ffff"/>
<circle cx="1372.4" cy="381.7" r="3.5" fill="#00ffff"/>
<circle cx="1373.2" cy="382.0" r="3.5" fill="#00ffff"/>
<circle cx="1374.0" cy="383.1" r="3.5" fill="#00ffff"/>
<circle cx="1374.8" cy="382.2" r="3.5" fill="#00ffff"/>
<circle cx="1375.6" cy="384.1" r="3.5" fill="#00ffff"/>
<circle cx="1376.4" cy="385.3" r="3.5" fill="#00ffff"/>
<circle cx="1377.2" cy="382.6" r="3.5" fill="#00ffff"/>
<circle cx="1378.0" cy="381.8" r="3.5" fill="#00ffff"/>
<circle cx="1378.8" cy="383.4" r="3.5" fill="#00ffff"/>
<circle cx="1379.6" cy="385.4" r="3.5" fill="#00ffff"/>
<circle cx="1380.4" cy="385.6" r="3.5" fill="#00ffff"/>
<circle cx="1381.2" cy="384.1" r="3.5" fill="#00ffff"/>
<circle cx="1382.0" cy="383.4" r="3.5" fill="#00ffff"/>
<circle cx="1382.8" cy="385.2" r="3.5" fill="#00ffff"/>
<circle cx="1383.6" cy="386.9" r="3.5" fill="#00ffff"/>
<circle cx="1384.4" cy="384.8" r="3.5" fill="#00ffff"/>
<circle cx="1385.2" cy="388.0" r="3.5" fill="#00ffff"/>
<circle cx="1386.0" cy="386.8" r="3.5" fill="#00ffff"/>
<circle cx="1386.8" cy="387.2" r="3.5" fill="#00ffff"/>
<circle cx="1387.6" cy="386.2" r="3.5" fill="#00ffff"/>
<circle cx="1388.4" cy="389.4" r="3.5" fill="#00ffff"/>
<circle cx="1389.2" cy="387.8" r="3.5" fill="#00ffff"/>
<circle cx="1390.0" cy="385.8" r="3.5" fill="#00ffff"/>
<circle cx="1390.8" cy="389.5" r="3.5" fill="#00ffff"/>
<circle cx="1391.6" cy="387.9" r="3.5" fill="#00ffff"/>
<circle cx="1392.4" cy="390.4" r="3.5" fill="#00ffff"/>
<circle cx="1393.2" cy="389.2" r="3.5" fill="#00ffff"/>
<circle cx="1394.0" cy="388.3" r="3.5" fill="#00ffff"/>
<circle cx="1394.8" cy="389.7" r="3.5" fill="#00ffff"/>
<circle cx="1395.6" cy="389.0" r="3.5" fill="#00ffff"/>
<circle cx="1396.4" cy="388.7" r="3.5" fill="#00ffff"/>
<circle cx="1397.2" cy="390.2" r="3.5" fill="#00ffff"/>
<circle cx="1398.0" cy="391.6" r="3.5" fill="#00ffff"/>
<circle cx="1398.8" cy="390.7" r="3.5" fill="#00ffff"/>
<circle cx="1399.6" cy="390.7" r="3.5" fill="#00ffff"/>
<circle cx="1400.4" cy="390.2" r="3.5" fill="#00ffff"/>
<circle cx="1401.2" cy="392.2" r="3.5" fill="#00ffff"/>
<circle cx="1402.0" cy="392.0" r="3.5" fill="#00ffff"/>
<circle cx="1402.8" cy="393.3" r="3.5" fill="#00ffff"/>
<circle cx="1403.6" cy="392.7" r="3.5" fill="#00ffff"/>
<circle cx="1404.4" cy="395.6" r="3.5" fill="#00ffff"/>
<circle cx="1405.2" cy="390.3" r="3.5" fill="#00ffff"/>
<circle cx="1406.0" cy="392.9" r="3.5" fill="#00ffff"/>
<circle cx="1406.8" cy="394.0" r="3.5" fill="#00ffff"/>
<circle cx="1407.6" cy="394.9" r="3.5" fill="#00ffff"/>
<circle cx="1408.4" cy="391.4" r="3.5" fill="#00ffff"/>
<circle cx="1409.2" cy="392.2" r="3.5" fill="#00ffff"/>
<circle cx="1410.0" cy="394.2" r="3.5" fill="#00ffff"/>
<circle cx="1410.8" cy="396.2" r="3.5" fill="#00ffff"/>
<circle cx="1411.6" cy="396.5" r="3.5" fill="#00ffff"/>
<circle cx="1412.4" cy="392.8" r="3.5" fill="#00ffff"/>
<circle cx="1413.2" cy="395.6" r="3.5" fill="#00ffff"/>
<circle cx="1414.0" cy="397.4" r="3.5" fill="#00ffff"/>
<circle cx="1414.8" cy="395.9" r="3.5" fill="#00ffff"/>
<circle cx="1415.6" cy="394.5" r="3.5" fill="#00ffff"/>
<circle cx="1416.4" cy="395.2" r="3.5" fill="#00ffff"/>
<circle cx="1417.2" cy="394.5" r="3.5" fill="#00ffff"/>
<circle cx="1418.0" cy="398.6" r="3.5" fill="#00ffff"/>
<circle cx="1418.8" cy="396.7" r="3.5" fill="#00ffff"/>
<circle cx="1419.6" cy="396.6" r="3.5" fill="#00ffff"/>
<circle cx="1420.4" cy="396.2" r="3.5" fill="#00ffff"/>
<circle cx="1421.2" cy="397.6" r="3.5" fill="#00ffff"/>
<circle cx="1422.0" cy="396.6" r="3.5" fill="#00ffff"/>
<circle cx="1422.8" cy="396.8" r="3.5" fill="#00ffff"/>
<circle cx="1423.6" cy="398.4" r="3.5" fill="#00ffff"/>
<circle cx="1424.4" cy="398.4" r="3.5" fill="#00ffff"/>
<circle cx="1425.2" cy="399.8" r="3.5" fill="#00ffff"/>
<circle cx="1426.0" cy="399.7" r="3.5" fill="#00ffff"/>
<circle cx="1426.8" cy="401.5" r="3.5" fill="#00ffff"/>
<circle cx="1427.6" cy="400.0" r="3.5" fill="#00ffff"/>
<circle cx="1428.4" cy="400.8" r="3.5" fill="#00ffff"/>
<circle cx="1429.2" cy="401.1" r="3.5" fill="#00ffff"/>
<circle cx="1430.0" cy="399.8" r="3.5" fill="#00ffff"/>
<circle cx="1430.8" cy="403.2" r="3.5" fill="#00ffff"/>
<circle cx="1431.6" cy="400.8" r="3.5" fill="#00ffff"/>
<circle cx="1432.4" cy="399.6" r="3.5" fill="#00ffff"/>
<circle cx="1433.2" cy="404.2" r="3.5" fill="#00ffff"/>
<circle cx="1434.0" cy="403.6" r="3.5" fill="#00ffff"/>
<circle cx="1434.8" cy="402.1" r="3.5" fill="#00ffff"/>
<circle cx="1435.6" cy="404.6" r="3.5" fill="#00ffff"/>
<circle cx="1436.4" cy="404.9" r="3.5" fill="#00ffff"/>
<circle cx="1437.2" cy="404.6" r="3.5" fill="#00ffff"/>
<circle cx="1438.0" cy="402.0" r="3.5" fill="#00ffff"/>
<circle cx="1438.8" cy="404.2" r="3.5" fill="#00ffff"/>
<circle cx="1439.6" cy="402.6" r="3.5" fill="#00ffff"/>
<circle cx="1440.4" cy="403.4" r="3.5" fill="#00ffff"/>
<circle cx="1441.2" cy="403.7" r="3.5" fill="#00ffff"/>
<circle cx="1442.0" cy="403.4" r="3.5" fill="#00ffff"/>
<circle cx="1442.8" cy="405.7" r="3.5" fill="#00ffff"/>
<circle cx="1443.6" cy="403.9" r="3.5" fill="#00ffff"/>
<circle cx="1444.4" cy="406.2" r="3.5" fill="#00ffff"/>
<circle cx="1445.2" cy="405.7" r="3.5" fill="#00ffff"/>
<circle cx="1446.0" cy="404.8" r="3.5" fill="#00ffff"/>
<circle cx="1446.8" cy="406.2" r="3.5" fill="#00ffff"/>
<circle cx="1447.6" cy="407.3" r="3.5" fill="#00ffff"/>
<circle cx="1448.4" cy="408.2" r="3.5" fill="#00ffff"/>
<circle cx="1449.2" cy="406.4" r="3.5" fill="#00ffff"/>
<circle cx="1450.0" cy="409.7" r="3.5" fill="#00ffff"/>
<circle cx="1450.8" cy="408.3" r="3.5" fill="#00ffff"/>
<circle cx="1451.6" cy="409.6" r="3.5" fill="#00ffff"/>
<circle cx="1452.4" cy="405.9" r="3.5" fill="#00ffff"/>
<circle cx="1453.2" cy="406.7" r="3.5" fill="#00ffff"/>
<circle cx="1454.0" cy="410.4" r="3.5" fill="#00ffff"/>
<circle cx="1454.8" cy="408.5" r="3.5" fill="#00ffff"/>
<circle cx="1455.6" cy="409.9" r="3.5" fill="#00ffff"/>
<circle cx="1456.4" cy="411.3" r="3.5" fill="#00ffff"/>
<circle cx="1457.2" cy="407.6" r="3.5" fill="#00ffff"/>
<circle cx="1458.0" cy="410.7" r="3.5" fill="#00ffff"/>
<circle cx="1458.8" cy="413.2" r="3.5" fill="#00ffff"/>
<circle cx="1459.6" cy="411.7" r="3.5" fill="#00ffff"/>
<circle cx="1460.4" cy="410.8" r="3.5" fill="#00ffff"/>
<circle cx="1461.2" cy="411.8" r="3.5" fill="#00ffff"/>
<circle cx="1462.0" cy="411.2" r="3.5" fill="#00ffff"/>
<circle cx="1462.8" cy="412.6" r="3.5" fill="#00ffff"/>
<circle cx="1463.6" cy="413.6" r="3.5" fill="#00ffff"/>
<circle cx="1464.4" cy="411.5" r="3.5" fill="#00ffff"/>
<circle cx="1465.2" cy="413.0" r="3.5" fill="#00ffff"/>
<circle cx="1466.0" cy="412.8" r="3.5" fill="#00ffff"/>
<circle cx="1466.8" cy="413.7" r="3.5" fill="#00ffff"/>
<circle cx="1467.6" cy="414.1" r="3.5" fill="#00ffff"/>
<circle cx="1468.4" cy="411.4" r="3.5" fill="#00ffff"/>
<circle cx="1469.2" cy="414.8" r="3.5" fill="#00ffff"/>
<circle cx="1470.0" cy="414.2" r="3.5" fill="#00ffff"/>
<circle cx="1470.8" cy="411.0" r="3.5" fill="#00ffff"/>
<circle cx="1471.6" cy="412.1" r="3.5" fill="#00ffff"/>
<circle cx="1472.4" cy="410.1" r="3.5" fill="#00ffff"/>
<circle cx="1473.2" cy="411.7" r="3.5" fill="#00ffff"/>
<circle cx="1474.0" cy="412.5" r="3.5" fill="#00ffff"/>
<circle cx="1474.8" cy="410.0" r="3.5" fill="#00ffff"/>
<circle cx="1475.6" cy="410.4" r="3.5" fill="#00ffff"/>
<circle cx="1476.4" cy="410.1" r="3.5" fill="#00ffff"/>
<circle cx="1477.2" cy="410.2" r="3.5" fill="#00ffff"/>
<circle cx="1478.0" cy="409.8" r="3.5" fill="#00ffff"/>
<circle cx="1478.8" cy="409.0" r="3.5" fill="#00ffff"/>
<circle cx="1479.6" cy="411.1" r="3.5" fill="#00ffff"/>
<circle cx="1480.4" cy="409.6" r="3.5" fill="#00ffff"/>
<circle cx="1481.2" cy="408.3" r="3.5" fill="#00ffff"/>
<circle cx="1482.0" cy="410.7" r="3.5" fill="#00ffff"/>
<circle cx="1482.8" cy="408.0" r="3.5" fill="#00ffff"/>
<circle cx="1483.6" cy="409.8" r="3.5" fill="#00ffff"/>
<circle cx="1484.4" cy="406.3" r="3.5" fill="#00ffff"/>
<circle cx="1485.2" cy="409.6" r="3.5" fill="#00ffff"/>
<circle cx="1486.0" cy="406.1" r="3.5" fill="#00ffff"/>
<circle cx="1486.8" cy="404.6" r="3.5" fill="#00ffff"/>
<circle cx="1487.6" cy="406.0" r="3.5" fill="#00ffff"/>
<circle cx="1488.4" cy="402.6" r="3.5" fill="#00ffff"/>
<circle cx="1488.6" cy="388.4" r="3.5" fill="#00ffff"/>
<circle cx="1487.9" cy="395.1" r="3.5" fill="#00ffff"/>
<circle cx="1487.2" cy="447.6" r="3.5" fill="#00ffff"/>
<circle cx="1484.0" cy="405.0" r="3.5" fill="#00ffff"/>
<circle cx="1487.0" cy="400.0" r="3.5" fill="#00ffff"/>
<circle cx="1466.0" cy="415.0" r="3.5" fill="#00ffff"/>
<circle cx="1470.0" cy="416.0" r="3.5" fill="#00ffff"/>
<circle cx="1474.0" cy="415.5" r="3.5" fill="#00ffff"/>
<circle cx="1478.0" cy="414.0" r="3.5" fill="#00ffff"/>
<circle cx="1482.0" cy="412.0" r="3.5" fill="#00ffff"/>
<circle cx="1485.0" cy="407.0" r="3.5" fill="#00ffff"/>
<circle cx="1483.0" cy="402.0" r="3.5" fill="#00ffff"/>
<circle cx="1487.0" cy="401.0" r="3.5" fill="#00ffff"/>
<polyline points="905.0,192.5 914.2,189.3 920.2,190.8 926.2,191.2 932.2,192.7 943.5,197.2 950.2,192.0 951.0,195.3 961.5,195.0 967.8,197.2 973.5,199.5 979.8,197.2 985.8,202.2 991.8,198.3 998.2,208.2 1002.0,203.2 1009.7,208.0 1015.2,208.6 1022.8,214.7 1028.8,220.4 1035.4,227.0 1041.5,236.4 1047.7,254.5 1053.2,274.0 1060.7,269.5 1066.0,260.5 1071.7,256.3 1078.6,259.4 1084.3,274.2 1097.2,290.3 1104.2,277.3 1109.6,294.0" fill="none" stroke="#e6e342" stroke-width="1.2" stroke-linejoin="round"/>
<polyline points="1017.0,197.8 1039.3,213.2 1056.2,234.0 1069.3,245.5 1080.3,248.9 1090.2,260.6 1097.8,269.1 1105.6,270.5 1112.3,276.9 1118.2,285.1 1123.4,285.9 1128.9,289.0 1133.3,296.5 1138.2,296.5 1142.3,298.0 1145.7,303.2 1149.5,305.5 1153.2,310.7 1156.7,312.2 1155.5,317.5 1164.5,326.2 1171.2,333.2 1177.7,339.2 1184.2,344.5" fill="none" stroke="#e6e342" stroke-width="1.2" stroke-linejoin="round"/>
<polyline points="1488.0,423.0 1487.0,430.0 1487.0,437.0 1487.0,444.6" fill="none" stroke="#e6e342" stroke-width="1.2" stroke-linejoin="round"/>
<circle cx="914.2" cy="189.3" r="3.5" fill="#e6e342"/>
<circle cx="920.2" cy="190.8" r="3.5" fill="#e6e342"/>
<circle cx="926.2" cy="191.2" r="3.5" fill="#e6e342"/>
<circle cx="932.2" cy="192.7" r="3.5" fill="#e6e342"/>
<circle cx="943.5" cy="197.2" r="3.5" fill="#e6e342"/>
<circle cx="950.2" cy="192.0" r="3.5" fill="#e6e342"/>
<circle cx="951.0" cy="195.3" r="3.5" fill="#e6e342"/>
<circle cx="961.5" cy="195.0" r="3.5" fill="#e6e342"/>
<circle cx="967.8" cy="197.2" r="3.5" fill="#e6e342"/>
<circle cx="973.5" cy="199.5" r="3.5" fill="#e6e342"/>
<circle cx="979.8" cy="197.2" r="3.5" fill="#e6e342"/>
<circle cx="985.8" cy="202.2" r="3.5" fill="#e6e342"/>
<circle cx="991.8" cy="198.3" r="3.5" fill="#e6e342"/>
<circle cx="998.2" cy="208.2" r="3.5" fill="#e6e342"/>
<circle cx="1002.0" cy="203.2" r="3.5" fill="#e6e342"/>
<circle cx="1009.7" cy="208.0" r="3.5" fill="#e6e342"/>
<circle cx="1015.2" cy="208.6" r="3.5" fill="#e6e342"/>
<circle cx="1022.8" cy="214.7" r="3.5" fill="#e6e342"/>
<circle cx="1028.8" cy="220.4" r="3.5" fill="#e6e342"/>
<circle cx="1035.4" cy="227.0" r="3.5" fill="#e6e342"/>
<circle cx="1041.5" cy="236.4" r="3.5" fill="#e6e342"/>
<circle cx="1047.7" cy="254.5" r="3.5" fill="#e6e342"/>
<circle cx="1053.2" cy="274.0" r="3.5" fill="#e6e342"/>
<circle cx="1060.7" cy="269.5" r="3.5" fill="#e6e342"/>
<circle cx="1066.0" cy="260.5" r="3.5" fill="#e6e342"/>
<circle cx="1071.7" cy="256.3" r="3.5" fill="#e6e342"/>
<circle cx="1078.6" cy="259.4" r="3.5" fill="#e6e342"/>
<circle cx="1084.3" cy="274.2" r="3.5" fill="#e6e342"/>
<circle cx="1097.2" cy="290.3" r="3.5" fill="#e6e342"/>
<circle cx="1104.2" cy="277.3" r="3.5" fill="#e6e342"/>
<circle cx="1109.6" cy="294.0" r="3.5" fill="#e6e342"/>
<circle cx="1017.0" cy="197.8" r="3.5" fill="#e6e342"/>
<circle cx="1039.3" cy="213.2" r="3.5" fill="#e6e342"/>
<circle cx="1056.2" cy="234.0" r="3.5" fill="#e6e342"/>
<circle cx="1069.3" cy="245.5" r="3.5" fill="#e6e342"/>
<circle cx="1080.3" cy="248.9" r="3.5" fill="#e6e342"/>
<circle cx="1090.2" cy="260.6" r="3.5" fill="#e6e342"/>
<circle cx="1097.8" cy="269.1" r="3.5" fill="#e6e342"/>
<circle cx="1105.6" cy="270.5" r="3.5" fill="#e6e342"/>
<circle cx="1112.3" cy="276.9" r="3.5" fill="#e6e342"/>
<circle cx="1118.2" cy="285.1" r="3.5" fill="#e6e342"/>
<circle cx="1123.4" cy="285.9" r="3.5" fill="#e6e342"/>
<circle cx="1128.9" cy="289.0" r="3.5" fill="#e6e342"/>
<circle cx="1133.3" cy="296.5" r="3.5" fill="#e6e342"/>
<circle cx="1138.2" cy="296.5" r="3.5" fill="#e6e342"/>
<circle cx="1142.3" cy="298.0" r="3.5" fill="#e6e342"/>
<circle cx="1145.7" cy="303.2" r="3.5" fill="#e6e342"/>
<circle cx="1149.5" cy="305.5" r="3.5" fill="#e6e342"/>
<circle cx="1153.2" cy="310.7" r="3.5" fill="#e6e342"/>
<circle cx="1156.7" cy="312.2" r="3.5" fill="#e6e342"/>
<circle cx="1155.5" cy="317.5" r="3.5" fill="#e6e342"/>
<circle cx="1164.5" cy="326.2" r="3.5" fill="#e6e342"/>
<circle cx="1171.2" cy="333.2" r="3.5" fill="#e6e342"/>
<circle cx="1177.7" cy="339.2" r="3.5" fill="#e6e342"/>
<circle cx="1184.2" cy="344.4" r="3.5" fill="#e6e342"/>
<circle cx="1189.1" cy="349.7" r="3.5" fill="#e6e342"/>
<circle cx="1193.7" cy="352.4" r="3.5" fill="#e6e342"/>
<circle cx="1198.0" cy="355.9" r="3.5" fill="#e6e342"/>
<circle cx="1202.0" cy="360.5" r="3.5" fill="#e6e342"/>
<circle cx="1205.8" cy="363.6" r="3.5" fill="#e6e342"/>
<circle cx="1209.3" cy="366.5" r="3.5" fill="#e6e342"/>
<circle cx="1212.7" cy="369.9" r="3.5" fill="#e6e342"/>
<circle cx="1215.9" cy="372.6" r="3.5" fill="#e6e342"/>
<circle cx="1219.0" cy="374.2" r="3.5" fill="#e6e342"/>
<circle cx="1221.9" cy="376.6" r="3.5" fill="#e6e342"/>
<circle cx="1224.7" cy="380.3" r="3.5" fill="#e6e342"/>
<circle cx="1227.4" cy="383.1" r="3.5" fill="#e6e342"/>
<circle cx="1230.0" cy="386.7" r="3.5" fill="#e6e342"/>
<circle cx="1232.4" cy="388.4" r="3.5" fill="#e6e342"/>
<circle cx="1234.8" cy="388.5" r="3.5" fill="#e6e342"/>
<circle cx="1237.1" cy="391.8" r="3.5" fill="#e6e342"/>
<circle cx="1239.3" cy="392.7" r="3.5" fill="#e6e342"/>
<circle cx="1241.5" cy="395.1" r="3.5" fill="#e6e342"/>
<circle cx="1243.6" cy="396.7" r="3.5" fill="#e6e342"/>
<circle cx="1245.6" cy="397.0" r="3.5" fill="#e6e342"/>
<circle cx="1247.5" cy="396.0" r="3.5" fill="#e6e342"/>
<circle cx="1249.4" cy="399.0" r="3.5" fill="#e6e342"/>
<circle cx="1251.3" cy="397.8" r="3.5" fill="#e6e342"/>
<circle cx="1253.1" cy="401.4" r="3.5" fill="#e6e342"/>
<circle cx="1254.8" cy="399.9" r="3.5" fill="#e6e342"/>
<circle cx="1256.5" cy="400.7" r="3.5" fill="#e6e342"/>
<circle cx="1258.2" cy="404.9" r="3.5" fill="#e6e342"/>
<circle cx="1259.8" cy="398.5" r="3.5" fill="#e6e342"/>
<circle cx="1261.4" cy="402.1" r="3.5" fill="#e6e342"/>
<circle cx="1262.9" cy="400.2" r="3.5" fill="#e6e342"/>
<circle cx="1264.4" cy="401.4" r="3.5" fill="#e6e342"/>
<circle cx="1265.9" cy="401.1" r="3.5" fill="#e6e342"/>
<circle cx="1267.3" cy="403.9" r="3.5" fill="#e6e342"/>
<circle cx="1268.7" cy="401.9" r="3.5" fill="#e6e342"/>
<circle cx="1270.1" cy="403.0" r="3.5" fill="#e6e342"/>
<circle cx="1271.5" cy="403.4" r="3.5" fill="#e6e342"/>
<circle cx="1272.8" cy="398.7" r="3.5" fill="#e6e342"/>
<circle cx="1274.1" cy="404.5" r="3.5" fill="#e6e342"/>
<circle cx="1275.4" cy="401.3" r="3.5" fill="#e6e342"/>
<circle cx="1276.6" cy="398.5" r="3.5" fill="#e6e342"/>
<circle cx="1277.8" cy="400.3" r="3.5" fill="#e6e342"/>
<circle cx="1279.0" cy="403.2" r="3.5" fill="#e6e342"/>
<circle cx="1280.2" cy="403.3" r="3.5" fill="#e6e342"/>
<circle cx="1281.4" cy="400.2" r="3.5" fill="#e6e342"/>
<circle cx="1282.5" cy="401.7" r="3.5" fill="#e6e342"/>
<circle cx="1283.6" cy="402.0" r="3.5" fill="#e6e342"/>
<circle cx="1284.7" cy="403.6" r="3.5" fill="#e6e342"/>
<circle cx="1285.8" cy="401.4" r="3.5" fill="#e6e342"/>
<circle cx="1286.9" cy="403.7" r="3.5" fill="#e6e342"/>
<circle cx="1287.9" cy="400.6" r="3.5" fill="#e6e342"/>
<circle cx="1288.9" cy="401.3" r="3.5" fill="#e6e342"/>
<circle cx="1290.0" cy="404.5" r="3.5" fill="#e6e342"/>
<circle cx="1291.0" cy="404.8" r="3.5" fill="#e6e342"/>
<circle cx="1292.0" cy="403.4" r="3.5" fill="#e6e342"/>
<circle cx="1292.9" cy="404.8" r="3.5" fill="#e6e342"/>
<circle cx="1293.9" cy="404.2" r="3.5" fill="#e6e342"/>
<circle cx="1294.8" cy="405.4" r="3.5" fill="#e6e342"/>
<circle cx="1295.8" cy="406.3" r="3.5" fill="#e6e342"/>
<circle cx="1296.7" cy="405.2" r="3.5" fill="#e6e342"/>
<circle cx="1297.6" cy="405.9" r="3.5" fill="#e6e342"/>
<circle cx="1298.5" cy="403.7" r="3.5" fill="#e6e342"/>
<circle cx="1299.3" cy="403.5" r="3.5" fill="#e6e342"/>
<circle cx="1300.2" cy="400.1" r="3.5" fill="#e6e342"/>
<circle cx="1301.1" cy="405.6" r="3.5" fill="#e6e342"/>
<circle cx="1301.9" cy="405.0" r="3.5" fill="#e6e342"/>
<circle cx="1302.7" cy="406.0" r="3.5" fill="#e6e342"/>
<circle cx="1303.6" cy="401.5" r="3.5" fill="#e6e342"/>
<circle cx="1304.4" cy="404.3" r="3.5" fill="#e6e342"/>
<circle cx="1305.2" cy="404.2" r="3.5" fill="#e6e342"/>
<circle cx="1306.0" cy="401.9" r="3.5" fill="#e6e342"/>
<circle cx="1306.8" cy="407.3" r="3.5" fill="#e6e342"/>
<circle cx="1307.6" cy="407.9" r="3.5" fill="#e6e342"/>
<circle cx="1308.4" cy="403.0" r="3.5" fill="#e6e342"/>
<circle cx="1309.2" cy="406.3" r="3.5" fill="#e6e342"/>
<circle cx="1310.0" cy="408.7" r="3.5" fill="#e6e342"/>
<circle cx="1310.8" cy="403.0" r="3.5" fill="#e6e342"/>
<circle cx="1311.6" cy="407.3" r="3.5" fill="#e6e342"/>
<circle cx="1312.4" cy="408.4" r="3.5" fill="#e6e342"/>
<circle cx="1313.2" cy="408.9" r="3.5" fill="#e6e342"/>
<circle cx="1314.0" cy="402.6" r="3.5" fill="#e6e342"/>
<circle cx="1314.8" cy="403.2" r="3.5" fill="#e6e342"/>
<circle cx="1315.6" cy="405.6" r="3.5" fill="#e6e342"/>
<circle cx="1316.4" cy="407.6" r="3.5" fill="#e6e342"/>
<circle cx="1317.2" cy="402.9" r="3.5" fill="#e6e342"/>
<circle cx="1318.0" cy="403.9" r="3.5" fill="#e6e342"/>
<circle cx="1318.8" cy="403.2" r="3.5" fill="#e6e342"/>
<circle cx="1319.6" cy="407.5" r="3.5" fill="#e6e342"/>
<circle cx="1320.4" cy="404.3" r="3.5" fill="#e6e342"/>
<circle cx="1321.2" cy="406.6" r="3.5" fill="#e6e342"/>
<circle cx="1322.0" cy="406.7" r="3.5" fill="#e6e342"/>
<circle cx="1322.8" cy="407.8" r="3.5" fill="#e6e342"/>
<circle cx="1323.6" cy="406.4" r="3.5" fill="#e6e342"/>
<circle cx="1324.4" cy="406.3" r="3.5" fill="#e6e342"/>
<circle cx="1325.2" cy="408.0" r="3.5" fill="#e6e342"/>
<circle cx="1326.0" cy="406.8" r="3.5" fill="#e6e342"/>
<circle cx="1326.8" cy="403.5" r="3.5" fill="#e6e342"/>
<circle cx="1327.6" cy="405.1" r="3.5" fill="#e6e342"/>
<circle cx="1328.4" cy="408.0" r="3.5" fill="#e6e342"/>
<circle cx="1329.2" cy="406.6" r="3.5" fill="#e6e342"/>
<circle cx="1330.0" cy="405.8" r="3.5" fill="#e6e342"/>
<circle cx="1330.8" cy="407.0" r="3.5" fill="#e6e342"/>
<circle cx="1331.6" cy="413.1" r="3.5" fill="#e6e342"/>
<circle cx="1332.4" cy="406.6" r="3.5" fill="#e6e342"/>
<circle cx="1333.2" cy="407.7" r="3.5" fill="#e6e342"/>
<circle cx="1334.0" cy="407.7" r="3.5" fill="#e6e342"/>
<circle cx="1334.8" cy="406.3" r="3.5" fill="#e6e342"/>
<circle cx="1335.6" cy="409.1" r="3.5" fill="#e6e342"/>
<circle cx="1336.4" cy="408.5" r="3.5" fill="#e6e342"/>
<circle cx="1337.2" cy="407.6" r="3.5" fill="#e6e342"/>
<circle cx="1338.0" cy="404.2" r="3.5" fill="#e6e342"/>
<circle cx="1338.8" cy="409.3" r="3.5" fill="#e6e342"/>
<circle cx="1339.6" cy="408.4" r="3.5" fill="#e6e342"/>
<circle cx="1340.4" cy="406.8" r="3.5" fill="#e6e342"/>
<circle cx="1341.2" cy="403.5" r="3.5" fill="#e6e342"/>
<circle cx="1342.0" cy="407.0" r="3.5" fill="#e6e342"/>
<circle cx="1342.8" cy="405.5" r="3.5" fill="#e6e342"/>
<circle cx="1343.6" cy="406.9" r="3.5" fill="#e6e342"/>
<circle cx="1344.4" cy="406.6" r="3.5" fill="#e6e342"/>
<circle cx="1345.2" cy="406.3" r="3.5" fill="#e6e342"/>
<circle cx="1346.0" cy="408.8" r="3.5" fill="#e6e342"/>
<circle cx="1346.8" cy="407.7" r="3.5" fill="#e6e342"/>
<circle cx="1347.6" cy="409.2" r="3.5" fill="#e6e342"/>
<circle cx="1348.4" cy="406.4" r="3.5" fill="#e6e342"/>
<circle cx="1349.2" cy="407.6" r="3.5" fill="#e6e342"/>
<circle cx="1350.0" cy="409.8" r="3.5" fill="#e6e342"/>
<circle cx="1350.8" cy="408.6" r="3.5" fill="#e6e342"/>
<circle cx="1351.6" cy="407.3" r="3.5" fill="#e6e342"/>
<circle cx="1352.4" cy="407.3" r="3.5" fill="#e6e342"/>
<circle cx="1353.2" cy="407.8" r="3.5" fill="#e6e342"/>
<circle cx="1354.0" cy="408.7" r="3.5" fill="#e6e342"/>
<circle cx="1354.8" cy="409.9" r="3.5" fill="#e6e342"/>
<circle cx="1355.6" cy="409.3" r="3.5" fill="#e6e342"/>
<circle cx="1356.4" cy="410.3" r="3.5" fill="#e6e342"/>
<circle cx="1357.2" cy="410.6" r="3.5" fill="#e6e342"/>
<circle cx="1358.0" cy="409.8" r="3.5" fill="#e6e342"/>
<circle cx="1358.8" cy="411.5" r="3.5" fill="#e6e342"/>
<circle cx="1359.6" cy="410.9" r="3.5" fill="#e6e342"/>
<circle cx="1360.4" cy="409.8" r="3.5" fill="#e6e342"/>
<circle cx="1361.2" cy="410.0" r="3.5" fill="#e6e342"/>
<circle cx="1362.0" cy="410.4" r="3.5" fill="#e6e342"/>
<circle cx="1362.8" cy="409.5" r="3.5" fill="#e6e342"/>
<circle cx="1363.6" cy="408.8" r="3.5" fill="#e6e342"/>
<circle cx="1364.4" cy="410.9" r="3.5" fill="#e6e342"/>
<circle cx="1365.2" cy="410.3" r="3.5" fill="#e6e342"/>
<circle cx="1366.0" cy="412.0" r="3.5" fill="#e6e342"/>
<circle cx="1366.8" cy="410.5" r="3.5" fill="#e6e342"/>
<circle cx="1367.6" cy="411.6" r="3.5" fill="#e6e342"/>
<circle cx="1368.4" cy="411.9" r="3.5" fill="#e6e342"/>
<circle cx="1369.2" cy="411.2" r="3.5" fill="#e6e342"/>
<circle cx="1370.0" cy="412.3" r="3.5" fill="#e6e342"/>
<circle cx="1370.8" cy="411.1" r="3.5" fill="#e6e342"/>
<circle cx="1371.6" cy="411.7" r="3.5" fill="#e6e342"/>
<circle cx="1372.4" cy="413.6" r="3.5" fill="#e6e342"/>
<circle cx="1373.2" cy="413.2" r="3.5" fill="#e6e342"/>
<circle cx="1374.0" cy="412.8" r="3.5" fill="#e6e342"/>
<circle cx="1374.8" cy="411.7" r="3.5" fill="#e6e342"/>
<circle cx="1375.6" cy="414.0" r="3.5" fill="#e6e342"/>
<circle cx="1376.4" cy="416.0" r="3.5" fill="#e6e342"/>
<circle cx="1377.2" cy="410.1" r="3.5" fill="#e6e342"/>
<circle cx="1378.0" cy="414.9" r="3.5" fill="#e6e342"/>
<circle cx="1378.8" cy="413.8" r="3.5" fill="#e6e342"/>
<circle cx="1379.6" cy="415.2" r="3.5" fill="#e6e342"/>
<circle cx="1380.4" cy="415.4" r="3.5" fill="#e6e342"/>
<circle cx="1381.2" cy="412.3" r="3.5" fill="#e6e342"/>
<circle cx="1382.0" cy="416.5" r="3.5" fill="#e6e342"/>
<circle cx="1382.8" cy="413.2" r="3.5" fill="#e6e342"/>
<circle cx="1383.6" cy="413.9" r="3.5" fill="#e6e342"/>
<circle cx="1384.4" cy="415.4" r="3.5" fill="#e6e342"/>
<circle cx="1385.2" cy="414.5" r="3.5" fill="#e6e342"/>
<circle cx="1386.0" cy="415.2" r="3.5" fill="#e6e342"/>
<circle cx="1386.8" cy="414.2" r="3.5" fill="#e6e342"/>
<circle cx="1387.6" cy="413.6" r="3.5" fill="#e6e342"/>
<circle cx="1388.4" cy="415.3" r="3.5" fill="#e6e342"/>
<circle cx="1389.2" cy="413.9" r="3.5" fill="#e6e342"/>
<circle cx="1390.0" cy="417.7" r="3.5" fill="#e6e342"/>
<circle cx="1390.8" cy="416.2" r="3.5" fill="#e6e342"/>
<circle cx="1391.6" cy="418.2" r="3.5" fill="#e6e342"/>
<circle cx="1392.4" cy="414.4" r="3.5" fill="#e6e342"/>
<circle cx="1393.2" cy="413.3" r="3.5" fill="#e6e342"/>
<circle cx="1394.0" cy="413.2" r="3.5" fill="#e6e342"/>
<circle cx="1394.8" cy="416.3" r="3.5" fill="#e6e342"/>
<circle cx="1395.6" cy="415.1" r="3.5" fill="#e6e342"/>
<circle cx="1396.4" cy="417.8" r="3.5" fill="#e6e342"/>
<circle cx="1397.2" cy="415.2" r="3.5" fill="#e6e342"/>
<circle cx="1398.0" cy="415.5" r="3.5" fill="#e6e342"/>
<circle cx="1398.8" cy="418.3" r="3.5" fill="#e6e342"/>
<circle cx="1399.6" cy="417.4" r="3.5" fill="#e6e342"/>
<circle cx="1400.4" cy="419.3" r="3.5" fill="#e6e342"/>
<circle cx="1401.2" cy="419.7" r="3.5" fill="#e6e342"/>
<circle cx="1402.0" cy="419.2" r="3.5" fill="#e6e342"/>
<circle cx="1402.8" cy="416.9" r="3.5" fill="#e6e342"/>
<circle cx="1403.6" cy="417.6" r="3.5" fill="#e6e342"/>
<circle cx="1404.4" cy="422.6" r="3.5" fill="#e6e342"/>
<circle cx="1405.2" cy="418.9" r="3.5" fill="#e6e342"/>
<circle cx="1406.0" cy="419.9" r="3.5" fill="#e6e342"/>
<circle cx="1406.8" cy="419.8" r="3.5" fill="#e6e342"/>
<circle cx="1407.6" cy="419.7" r="3.5" fill="#e6e342"/>
<circle cx="1408.4" cy="419.7" r="3.5" fill="#e6e342"/>
<circle cx="1409.2" cy="419.2" r="3.5" fill="#e6e342"/>
<circle cx="1410.0" cy="419.4" r="3.5" fill="#e6e342"/>
<circle cx="1410.8" cy="417.3" r="3.5" fill="#e6e342"/>
<circle cx="1411.6" cy="423.1" r="3.5" fill="#e6e342"/>
<circle cx="1412.4" cy="420.6" r="3.5" fill="#e6e342"/>
<circle cx="1413.2" cy="418.9" r="3.5" fill="#e6e342"/>
<circle cx="1414.0" cy="421.8" r="3.5" fill="#e6e342"/>
<circle cx="1414.8" cy="422.2" r="3.5" fill="#e6e342"/>
<circle cx="1415.6" cy="419.1" r="3.5" fill="#e6e342"/>
<circle cx="1416.4" cy="420.7" r="3.5" fill="#e6e342"/>
<circle cx="1417.2" cy="424.0" r="3.5" fill="#e6e342"/>
<circle cx="1418.0" cy="422.7" r="3.5" fill="#e6e342"/>
<circle cx="1418.8" cy="422.6" r="3.5" fill="#e6e342"/>
<circle cx="1419.6" cy="423.7" r="3.5" fill="#e6e342"/>
<circle cx="1420.4" cy="422.1" r="3.5" fill="#e6e342"/>
<circle cx="1421.2" cy="422.0" r="3.5" fill="#e6e342"/>
<circle cx="1422.0" cy="425.1" r="3.5" fill="#e6e342"/>
<circle cx="1422.8" cy="422.5" r="3.5" fill="#e6e342"/>
<circle cx="1423.6" cy="422.8" r="3.5" fill="#e6e342"/>
<circle cx="1424.4" cy="424.0" r="3.5" fill="#e6e342"/>
<circle cx="1425.2" cy="423.1" r="3.5" fill="#e6e342"/>
<circle cx="1426.0" cy="421.2" r="3.5" fill="#e6e342"/>
<circle cx="1426.8" cy="426.1" r="3.5" fill="#e6e342"/>
<circle cx="1427.6" cy="423.2" r="3.5" fill="#e6e342"/>
<circle cx="1428.4" cy="426.1" r="3.5" fill="#e6e342"/>
<circle cx="1429.2" cy="424.2" r="3.5" fill="#e6e342"/>
<circle cx="1430.0" cy="422.1" r="3.5" fill="#e6e342"/>
<circle cx="1430.8" cy="425.9" r="3.5" fill="#e6e342"/>
<circle cx="1431.6" cy="423.3" r="3.5" fill="#e6e342"/>
<circle cx="1432.4" cy="422.3" r="3.5" fill="#e6e342"/>
<circle cx="1433.2" cy="423.7" r="3.5" fill="#e6e342"/>
<circle cx="1434.0" cy="420.5" r="3.5" fill="#e6e342"/>
<circle cx="1434.8" cy="424.5" r="3.5" fill="#e6e342"/>
<circle cx="1435.6" cy="422.8" r="3.5" fill="#e6e342"/>
<circle cx="1436.4" cy="423.6" r="3.5" fill="#e6e342"/>
<circle cx="1437.2" cy="422.7" r="3.5" fill="#e6e342"/>
<circle cx="1438.0" cy="425.2" r="3.5" fill="#e6e342"/>
<circle cx="1438.8" cy="424.8" r="3.5" fill="#e6e342"/>
<circle cx="1439.6" cy="426.1" r="3.5" fill="#e6e342"/>
<circle cx="1440.4" cy="427.0" r="3.5" fill="#e6e342"/>
<circle cx="1441.2" cy="425.0" r="3.5" fill="#e6e342"/>
<circle cx="1442.0" cy="424.8" r="3.5" fill="#e6e342"/>
<circle cx="1442.8" cy="425.2" r="3.5" fill="#e6e342"/>
<circle cx="1443.6" cy="423.6" r="3.5" fill="#e6e342"/>
<circle cx="1444.4" cy="424.1" r="3.5" fill="#e6e342"/>
<circle cx="1445.2" cy="426.2" r="3.5" fill="#e6e342"/>
<circle cx="1446.0" cy="423.8" r="3.5" fill="#e6e342"/>
<circle cx="1446.8" cy="422.2" r="3.5" fill="#e6e342"/>
<circle cx="1447.6" cy="424.7" r="3.5" fill="#e6e342"/>
<circle cx="1448.4" cy="425.7" r="3.5" fill="#e6e342"/>
<circle cx="1449.2" cy="427.7" r="3.5" fill="#e6e342"/>
<circle cx="1450.0" cy="424.4" r="3.5" fill="#e6e342"/>
<circle cx="1450.8" cy="424.1" r="3.5" fill="#e6e342"/>
<circle cx="1451.6" cy="425.8" r="3.5" fill="#e6e342"/>
<circle cx="1452.4" cy="425.5" r="3.5" fill="#e6e342"/>
<circle cx="1453.2" cy="426.2" r="3.5" fill="#e6e342"/>
<circle cx="1454.0" cy="425.1" r="3.5" fill="#e6e342"/>
<circle cx="1454.8" cy="426.2" r="3.5" fill="#e6e342"/>
<circle cx="1455.6" cy="425.1" r="3.5" fill="#e6e342"/>
<circle cx="1456.4" cy="427.6" r="3.5" fill="#e6e342"/>
<circle cx="1457.2" cy="426.6" r="3.5" fill="#e6e342"/>
<circle cx="1458.0" cy="427.1" r="3.5" fill="#e6e342"/>
<circle cx="1458.8" cy="425.5" r="3.5" fill="#e6e342"/>
<circle cx="1459.6" cy="424.1" r="3.5" fill="#e6e342"/>
<circle cx="1460.4" cy="426.3" r="3.5" fill="#e6e342"/>
<circle cx="1461.2" cy="426.3" r="3.5" fill="#e6e342"/>
<circle cx="1462.0" cy="428.1" r="3.5" fill="#e6e342"/>
<circle cx="1462.8" cy="427.9" r="3.5" fill="#e6e342"/>
<circle cx="1463.6" cy="426.4" r="3.5" fill="#e6e342"/>
<circle cx="1464.4" cy="426.4" r="3.5" fill="#e6e342"/>
<circle cx="1465.2" cy="425.0" r="3.5" fill="#e6e342"/>
<circle cx="1466.0" cy="426.5" r="3.5" fill="#e6e342"/>
<circle cx="1466.8" cy="427.0" r="3.5" fill="#e6e342"/>
<circle cx="1467.6" cy="426.1" r="3.5" fill="#e6e342"/>
<circle cx="1468.4" cy="425.1" r="3.5" fill="#e6e342"/>
<circle cx="1469.2" cy="428.7" r="3.5" fill="#e6e342"/>
<circle cx="1470.0" cy="425.2" r="3.5" fill="#e6e342"/>
<circle cx="1470.8" cy="429.1" r="3.5" fill="#e6e342"/>
<circle cx="1471.6" cy="428.3" r="3.5" fill="#e6e342"/>
<circle cx="1472.4" cy="428.8" r="3.5" fill="#e6e342"/>
<circle cx="1473.2" cy="425.0" r="3.5" fill="#e6e342"/>
<circle cx="1474.0" cy="427.2" r="3.5" fill="#e6e342"/>
<circle cx="1474.8" cy="424.0" r="3.5" fill="#e6e342"/>
<circle cx="1475.6" cy="425.5" r="3.5" fill="#e6e342"/>
<circle cx="1476.4" cy="423.7" r="3.5" fill="#e6e342"/>
<circle cx="1477.2" cy="424.8" r="3.5" fill="#e6e342"/>
<circle cx="1478.0" cy="425.1" r="3.5" fill="#e6e342"/>
<circle cx="1478.8" cy="427.2" r="3.5" fill="#e6e342"/>
<circle cx="1479.6" cy="427.3" r="3.5" fill="#e6e342"/>
<circle cx="1480.4" cy="424.9" r="3.5" fill="#e6e342"/>
<circle cx="1481.2" cy="424.7" r="3.5" fill="#e6e342"/>
<circle cx="1482.0" cy="423.4" r="3.5" fill="#e6e342"/>
<circle cx="1482.8" cy="422.8" r="3.5" fill="#e6e342"/>
<circle cx="1483.6" cy="421.5" r="3.5" fill="#e6e342"/>
<circle cx="1484.4" cy="423.6" r="3.5" fill="#e6e342"/>
<circle cx="1485.2" cy="424.5" r="3.5" fill="#e6e342"/>
<circle cx="1486.0" cy="422.1" r="3.5" fill="#e6e342"/>
<circle cx="1486.8" cy="423.6" r="3.5" fill="#e6e342"/>
<circle cx="1487.6" cy="420.9" r="3.5" fill="#e6e342"/>
<circle cx="1488.4" cy="420.8" r="3.5" fill="#e6e342"/>
<circle cx="1134.8" cy="310.7" r="3.5" fill="#e6e342"/>
<circle cx="1255.8" cy="407.5" r="3.5" fill="#e6e342"/>
<circle cx="1260.0" cy="410.0" r="3.5" fill="#e6e342"/>
<circle cx="1487.0" cy="430.0" r="3.5" fill="#e6e342"/>
<circle cx="1487.0" cy="437.0" r="3.5" fill="#e6e342"/>
<circle cx="1487.0" cy="444.6" r="3.5" fill="#e6e342"/>
<polyline points="905.0,217.5 910.8,215.7 917.2,216.3 923.2,220.2 929.7,222.0 929.2,224.7 942.7,221.2 941.2,226.8 949.5,223.8 955.8,228.8 966.0,227.2 972.7,230.2 978.7,226.5 984.7,231.0 988.8,231.3 994.8,235.5 1001.2,234.3 1009.6,239.6 1015.6,241.6 1022.2,244.7 1028.2,252.2 1034.8,256.7 1039.7,264.6 1046.2,276.7 1052.5,296.2 1058.5,310.7 1065.2,290.8 1072.3,288.7 1078.6,290.7 1084.0,304.7 1091.0,328.0 1097.2,317.5 1103.6,312.5 1109.8,325.7 1115.8,332.5" fill="none" stroke="#ff0000" stroke-width="1.2" stroke-linejoin="round"/>
<polyline points="1017.0,233.3 1039.3,248.2 1056.2,268.2 1069.3,279.0 1080.2,283.5 1090.0,295.5 1098.2,303.2 1105.5,304.3 1112.3,311.3 1118.2,318.2 1124.0,318.2 1129.2,322.3 1133.3,329.2 1138.2,331.0 1142.7,332.5 1146.5,336.2 1150.2,338.5 1154.0,339.2 1157.0,343.0 1155.8,348.3 1164.2,356.7 1171.3,363.3 1178.0,369.7 1184.2,374.7" fill="none" stroke="#ff0000" stroke-width="1.2" stroke-linejoin="round"/>
<polyline points="1486.0,460.0 1487.5,467.0 1487.5,471.0" fill="none" stroke="#ff0000" stroke-width="1.2" stroke-linejoin="round"/>
<circle cx="910.8" cy="215.7" r="3.5" fill="#ff0000"/>
<circle cx="917.2" cy="216.3" r="3.5" fill="#ff0000"/>
<circle cx="923.2" cy="220.2" r="3.5" fill="#ff0000"/>
<circle cx="929.7" cy="222.0" r="3.5" fill="#ff0000"/>
<circle cx="929.2" cy="224.7" r="3.5" fill="#ff0000"/>
<circle cx="942.7" cy="221.2" r="3.5" fill="#ff0000"/>
<circle cx="941.2" cy="226.8" r="3.5" fill="#ff0000"/>
<circle cx="949.5" cy="223.8" r="3.5" fill="#ff0000"/>
<circle cx="955.8" cy="228.8" r="3.5" fill="#ff0000"/>
<circle cx="966.0" cy="227.2" r="3.5" fill="#ff0000"/>
<circle cx="972.7" cy="230.2" r="3.5" fill="#ff0000"/>
<circle cx="978.7" cy="226.5" r="3.5" fill="#ff0000"/>
<circle cx="984.7" cy="231.0" r="3.5" fill="#ff0000"/>
<circle cx="988.8" cy="231.3" r="3.5" fill="#ff0000"/>
<circle cx="994.8" cy="235.5" r="3.5" fill="#ff0000"/>
<circle cx="1001.2" cy="234.3" r="3.5" fill="#ff0000"/>
<circle cx="1009.6" cy="239.6" r="3.5" fill="#ff0000"/>
<circle cx="1015.6" cy="241.6" r="3.5" fill="#ff0000"/>
<circle cx="1022.2" cy="244.7" r="3.5" fill="#ff0000"/>
<circle cx="1028.2" cy="252.2" r="3.5" fill="#ff0000"/>
<circle cx="1034.8" cy="256.7" r="3.5" fill="#ff0000"/>
<circle cx="1039.7" cy="264.6" r="3.5" fill="#ff0000"/>
<circle cx="1046.2" cy="276.7" r="3.5" fill="#ff0000"/>
<circle cx="1052.5" cy="296.2" r="3.5" fill="#ff0000"/>
<circle cx="1058.5" cy="310.7" r="3.5" fill="#ff0000"/>
<circle cx="1065.2" cy="290.8" r="3.5" fill="#ff0000"/>
<circle cx="1072.3" cy="288.7" r="3.5" fill="#ff0000"/>
<circle cx="1078.6" cy="290.7" r="3.5" fill="#ff0000"/>
<circle cx="1084.0" cy="304.7" r="3.5" fill="#ff0000"/>
<circle cx="1091.0" cy="328.0" r="3.5" fill="#ff0000"/>
<circle cx="1097.2" cy="317.5" r="3.5" fill="#ff0000"/>
<circle cx="1103.6" cy="312.5" r="3.5" fill="#ff0000"/>
<circle cx="1109.8" cy="325.7" r="3.5" fill="#ff0000"/>
<circle cx="1115.8" cy="332.5" r="3.5" fill="#ff0000"/>
<circle cx="1017.0" cy="233.3" r="3.5" fill="#ff0000"/>
<circle cx="1039.3" cy="248.2" r="3.5" fill="#ff0000"/>
<circle cx="1056.2" cy="268.2" r="3.5" fill="#ff0000"/>
<circle cx="1069.3" cy="279.0" r="3.5" fill="#ff0000"/>
<circle cx="1080.2" cy="283.5" r="3.5" fill="#ff0000"/>
<circle cx="1090.0" cy="295.5" r="3.5" fill="#ff0000"/>
<circle cx="1098.2" cy="303.2" r="3.5" fill="#ff0000"/>
<circle cx="1105.5" cy="304.3" r="3.5" fill="#ff0000"/>
<circle cx="1112.3" cy="311.3" r="3.5" fill="#ff0000"/>
<circle cx="1118.2" cy="318.2" r="3.5" fill="#ff0000"/>
<circle cx="1124.0" cy="318.2" r="3.5" fill="#ff0000"/>
<circle cx="1129.2" cy="322.3" r="3.5" fill="#ff0000"/>
<circle cx="1133.3" cy="329.2" r="3.5" fill="#ff0000"/>
<circle cx="1138.2" cy="331.0" r="3.5" fill="#ff0000"/>
<circle cx="1142.7" cy="332.5" r="3.5" fill="#ff0000"/>
<circle cx="1146.5" cy="336.2" r="3.5" fill="#ff0000"/>
<circle cx="1150.2" cy="338.5" r="3.5" fill="#ff0000"/>
<circle cx="1154.0" cy="339.2" r="3.5" fill="#ff0000"/>
<circle cx="1157.0" cy="343.0" r="3.5" fill="#ff0000"/>
<circle cx="1155.8" cy="348.3" r="3.5" fill="#ff0000"/>
<circle cx="1164.2" cy="356.7" r="3.5" fill="#ff0000"/>
<circle cx="1171.3" cy="363.3" r="3.5" fill="#ff0000"/>
<circle cx="1178.0" cy="369.7" r="3.5" fill="#ff0000"/>
<circle cx="1184.2" cy="375.6" r="3.5" fill="#ff0000"/>
<circle cx="1189.1" cy="378.1" r="3.5" fill="#ff0000"/>
<circle cx="1193.7" cy="380.3" r="3.5" fill="#ff0000"/>
<circle cx="1198.0" cy="383.7" r="3.5" fill="#ff0000"/>
<circle cx="1202.0" cy="387.9" r="3.5" fill="#ff0000"/>
<circle cx="1205.8" cy="390.8" r="3.5" fill="#ff0000"/>
<circle cx="1209.3" cy="392.4" r="3.5" fill="#ff0000"/>
<circle cx="1212.7" cy="393.5" r="3.5" fill="#ff0000"/>
<circle cx="1215.9" cy="396.3" r="3.5" fill="#ff0000"/>
<circle cx="1219.0" cy="399.7" r="3.5" fill="#ff0000"/>
<circle cx="1221.9" cy="399.3" r="3.5" fill="#ff0000"/>
<circle cx="1224.7" cy="402.9" r="3.5" fill="#ff0000"/>
<circle cx="1227.4" cy="404.1" r="3.5" fill="#ff0000"/>
<circle cx="1230.0" cy="405.4" r="3.5" fill="#ff0000"/>
<circle cx="1232.4" cy="406.9" r="3.5" fill="#ff0000"/>
<circle cx="1234.8" cy="406.8" r="3.5" fill="#ff0000"/>
<circle cx="1237.1" cy="408.0" r="3.5" fill="#ff0000"/>
<circle cx="1239.3" cy="410.5" r="3.5" fill="#ff0000"/>
<circle cx="1241.5" cy="409.6" r="3.5" fill="#ff0000"/>
<circle cx="1243.6" cy="410.6" r="3.5" fill="#ff0000"/>
<circle cx="1245.6" cy="410.7" r="3.5" fill="#ff0000"/>
<circle cx="1247.5" cy="412.3" r="3.5" fill="#ff0000"/>
<circle cx="1249.4" cy="413.9" r="3.5" fill="#ff0000"/>
<circle cx="1251.3" cy="414.8" r="3.5" fill="#ff0000"/>
<circle cx="1253.1" cy="414.7" r="3.5" fill="#ff0000"/>
<circle cx="1254.8" cy="415.3" r="3.5" fill="#ff0000"/>
<circle cx="1256.5" cy="415.9" r="3.5" fill="#ff0000"/>
<circle cx="1258.2" cy="416.3" r="3.5" fill="#ff0000"/>
<circle cx="1259.8" cy="417.6" r="3.5" fill="#ff0000"/>
<circle cx="1261.4" cy="417.1" r="3.5" fill="#ff0000"/>
<circle cx="1262.9" cy="418.8" r="3.5" fill="#ff0000"/>
<circle cx="1264.4" cy="418.3" r="3.5" fill="#ff0000"/>
<circle cx="1265.9" cy="417.4" r="3.5" fill="#ff0000"/>
<circle cx="1267.3" cy="418.1" r="3.5" fill="#ff0000"/>
<circle cx="1268.7" cy="419.5" r="3.5" fill="#ff0000"/>
<circle cx="1270.1" cy="419.6" r="3.5" fill="#ff0000"/>
<circle cx="1271.5" cy="419.2" r="3.5" fill="#ff0000"/>
<circle cx="1272.8" cy="419.9" r="3.5" fill="#ff0000"/>
<circle cx="1274.1" cy="421.2" r="3.5" fill="#ff0000"/>
<circle cx="1275.4" cy="421.7" r="3.5" fill="#ff0000"/>
<circle cx="1276.6" cy="422.5" r="3.5" fill="#ff0000"/>
<circle cx="1277.8" cy="421.1" r="3.5" fill="#ff0000"/>
<circle cx="1279.0" cy="422.6" r="3.5" fill="#ff0000"/>
<circle cx="1280.2" cy="423.6" r="3.5" fill="#ff0000"/>
<circle cx="1281.4" cy="423.0" r="3.5" fill="#ff0000"/>
<circle cx="1282.5" cy="424.6" r="3.5" fill="#ff0000"/>
<circle cx="1283.6" cy="422.5" r="3.5" fill="#ff0000"/>
<circle cx="1284.7" cy="423.1" r="3.5" fill="#ff0000"/>
<circle cx="1285.8" cy="423.4" r="3.5" fill="#ff0000"/>
<circle cx="1286.9" cy="422.9" r="3.5" fill="#ff0000"/>
<circle cx="1287.9" cy="423.4" r="3.5" fill="#ff0000"/>
<circle cx="1288.9" cy="423.8" r="3.5" fill="#ff0000"/>
<circle cx="1290.0" cy="423.7" r="3.5" fill="#ff0000"/>
<circle cx="1291.0" cy="423.4" r="3.5" fill="#ff0000"/>
<circle cx="1292.0" cy="423.6" r="3.5" fill="#ff0000"/>
<circle cx="1292.9" cy="424.2" r="3.5" fill="#ff0000"/>
<circle cx="1293.9" cy="422.8" r="3.5" fill="#ff0000"/>
<circle cx="1294.8" cy="424.9" r="3.5" fill="#ff0000"/>
<circle cx="1295.8" cy="423.7" r="3.5" fill="#ff0000"/>
<circle cx="1296.7" cy="424.8" r="3.5" fill="#ff0000"/>
<circle cx="1297.6" cy="424.0" r="3.5" fill="#ff0000"/>
<circle cx="1298.5" cy="425.5" r="3.5" fill="#ff0000"/>
<circle cx="1299.3" cy="425.1" r="3.5" fill="#ff0000"/>
<circle cx="1300.2" cy="425.4" r="3.5" fill="#ff0000"/>
<circle cx="1301.1" cy="425.1" r="3.5" fill="#ff0000"/>
<circle cx="1301.9" cy="426.2" r="3.5" fill="#ff0000"/>
<circle cx="1302.7" cy="428.0" r="3.5" fill="#ff0000"/>
<circle cx="1303.6" cy="424.4" r="3.5" fill="#ff0000"/>
<circle cx="1304.4" cy="427.1" r="3.5" fill="#ff0000"/>
<circle cx="1305.2" cy="426.9" r="3.5" fill="#ff0000"/>
<circle cx="1306.0" cy="426.4" r="3.5" fill="#ff0000"/>
<circle cx="1306.8" cy="425.6" r="3.5" fill="#ff0000"/>
<circle cx="1307.6" cy="428.9" r="3.5" fill="#ff0000"/>
<circle cx="1308.4" cy="427.5" r="3.5" fill="#ff0000"/>
<circle cx="1309.2" cy="428.5" r="3.5" fill="#ff0000"/>
<circle cx="1310.0" cy="427.1" r="3.5" fill="#ff0000"/>
<circle cx="1310.8" cy="426.8" r="3.5" fill="#ff0000"/>
<circle cx="1311.6" cy="429.0" r="3.5" fill="#ff0000"/>
<circle cx="1312.4" cy="428.8" r="3.5" fill="#ff0000"/>
<circle cx="1313.2" cy="427.8" r="3.5" fill="#ff0000"/>
<circle cx="1314.0" cy="428.0" r="3.5" fill="#ff0000"/>
<circle cx="1314.8" cy="429.1" r="3.5" fill="#ff0000"/>
<circle cx="1315.6" cy="427.6" r="3.5" fill="#ff0000"/>
<circle cx="1316.4" cy="427.7" r="3.5" fill="#ff0000"/>
<circle cx="1317.2" cy="428.8" r="3.5" fill="#ff0000"/>
<circle cx="1318.0" cy="430.1" r="3.5" fill="#ff0000"/>
<circle cx="1318.8" cy="430.1" r="3.5" fill="#ff0000"/>
<circle cx="1319.6" cy="429.4" r="3.5" fill="#ff0000"/>
<circle cx="1320.4" cy="430.9" r="3.5" fill="#ff0000"/>
<circle cx="1321.2" cy="429.3" r="3.5" fill="#ff0000"/>
<circle cx="1322.0" cy="429.1" r="3.5" fill="#ff0000"/>
<circle cx="1322.8" cy="432.5" r="3.5" fill="#ff0000"/>
<circle cx="1323.6" cy="429.3" r="3.5" fill="#ff0000"/>
<circle cx="1324.4" cy="430.7" r="3.5" fill="#ff0000"/>
<circle cx="1325.2" cy="430.8" r="3.5" fill="#ff0000"/>
<circle cx="1326.0" cy="430.4" r="3.5" fill="#ff0000"/>
<circle cx="1326.8" cy="430.7" r="3.5" fill="#ff0000"/>
<circle cx="1327.6" cy="431.4" r="3.5" fill="#ff0000"/>
<circle cx="1328.4" cy="431.4" r="3.5" fill="#ff0000"/>
<circle cx="1329.2" cy="430.2" r="3.5" fill="#ff0000"/>
<circle cx="1330.0" cy="431.0" r="3.5" fill="#ff0000"/>
<circle cx="1330.8" cy="432.8" r="3.5" fill="#ff0000"/>
<circle cx="1331.6" cy="432.1" r="3.5" fill="#ff0000"/>
<circle cx="1332.4" cy="430.9" r="3.5" fill="#ff0000"/>
<circle cx="1333.2" cy="431.7" r="3.5" fill="#ff0000"/>
<circle cx="1334.0" cy="430.7" r="3.5" fill="#ff0000"/>
<circle cx="1334.8" cy="430.5" r="3.5" fill="#ff0000"/>
<circle cx="1335.6" cy="431.7" r="3.5" fill="#ff0000"/>
<circle cx="1336.4" cy="434.5" r="3.5" fill="#ff0000"/>
<circle cx="1337.2" cy="432.0" r="3.5" fill="#ff0000"/>
<circle cx="1338.0" cy="430.6" r="3.5" fill="#ff0000"/>
<circle cx="1338.8" cy="433.1" r="3.5" fill="#ff0000"/>
<circle cx="1339.6" cy="432.7" r="3.5" fill="#ff0000"/>
<circle cx="1340.4" cy="434.7" r="3.5" fill="#ff0000"/>
<circle cx="1341.2" cy="435.5" r="3.5" fill="#ff0000"/>
<circle cx="1342.0" cy="433.8" r="3.5" fill="#ff0000"/>
<circle cx="1342.8" cy="434.6" r="3.5" fill="#ff0000"/>
<circle cx="1343.6" cy="433.6" r="3.5" fill="#ff0000"/>
<circle cx="1344.4" cy="436.4" r="3.5" fill="#ff0000"/>
<circle cx="1345.2" cy="434.3" r="3.5" fill="#ff0000"/>
<circle cx="1346.0" cy="435.4" r="3.5" fill="#ff0000"/>
<circle cx="1346.8" cy="438.6" r="3.5" fill="#ff0000"/>
<circle cx="1347.6" cy="434.7" r="3.5" fill="#ff0000"/>
<circle cx="1348.4" cy="436.2" r="3.5" fill="#ff0000"/>
<circle cx="1349.2" cy="436.1" r="3.5" fill="#ff0000"/>
<circle cx="1350.0" cy="437.0" r="3.5" fill="#ff0000"/>
<circle cx="1350.8" cy="437.2" r="3.5" fill="#ff0000"/>
<circle cx="1351.6" cy="438.7" r="3.5" fill="#ff0000"/>
<circle cx="1352.4" cy="437.6" r="3.5" fill="#ff0000"/>
<circle cx="1353.2" cy="437.9" r="3.5" fill="#ff0000"/>
<circle cx="1354.0" cy="435.7" r="3.5" fill="#ff0000"/>
<circle cx="1354.8" cy="438.0" r="3.5" fill="#ff0000"/>
<circle cx="1355.6" cy="436.0" r="3.5" fill="#ff0000"/>
<circle cx="1356.4" cy="439.5" r="3.5" fill="#ff0000"/>
<circle cx="1357.2" cy="438.0" r="3.5" fill="#ff0000"/>
<circle cx="1358.0" cy="439.5" r="3.5" fill="#ff0000"/>
<circle cx="1358.8" cy="437.8" r="3.5" fill="#ff0000"/>
<circle cx="1359.6" cy="438.9" r="3.5" fill="#ff0000"/>
<circle cx="1360.4" cy="438.9" r="3.5" fill="#ff0000"/>
<circle cx="1361.2" cy="439.7" r="3.5" fill="#ff0000"/>
<circle cx="1362.0" cy="439.1" r="3.5" fill="#ff0000"/>
<circle cx="1362.8" cy="438.6" r="3.5" fill="#ff0000"/>
<circle cx="1363.6" cy="439.1" r="3.5" fill="#ff0000"/>
<circle cx="1364.4" cy="438.9" r="3.5" fill="#ff0000"/>
<circle cx="1365.2" cy="438.8" r="3.5" fill="#ff0000"/>
<circle cx="1366.0" cy="438.6" r="3.5" fill="#ff0000"/>
<circle cx="1366.8" cy="438.5" r="3.5" fill="#ff0000"/>
<circle cx="1367.6" cy="443.1" r="3.5" fill="#ff0000"/>
<circle cx="1368.4" cy="439.8" r="3.5" fill="#ff0000"/>
<circle cx="1369.2" cy="439.5" r="3.5" fill="#ff0000"/>
<circle cx="1370.0" cy="442.5" r="3.5" fill="#ff0000"/>
<circle cx="1370.8" cy="441.8" r="3.5" fill="#ff0000"/>
<circle cx="1371.6" cy="441.4" r="3.5" fill="#ff0000"/>
<circle cx="1372.4" cy="443.3" r="3.5" fill="#ff0000"/>
<circle cx="1373.2" cy="444.5" r="3.5" fill="#ff0000"/>
<circle cx="1374.0" cy="441.0" r="3.5" fill="#ff0000"/>
<circle cx="1374.8" cy="444.3" r="3.5" fill="#ff0000"/>
<circle cx="1375.6" cy="443.4" r="3.5" fill="#ff0000"/>
<circle cx="1376.4" cy="444.4" r="3.5" fill="#ff0000"/>
<circle cx="1377.2" cy="442.2" r="3.5" fill="#ff0000"/>
<circle cx="1378.0" cy="445.5" r="3.5" fill="#ff0000"/>
<circle cx="1378.8" cy="445.0" r="3.5" fill="#ff0000"/>
<circle cx="1379.6" cy="440.0" r="3.5" fill="#ff0000"/>
<circle cx="1380.4" cy="445.5" r="3.5" fill="#ff0000"/>
<circle cx="1381.2" cy="445.9" r="3.5" fill="#ff0000"/>
<circle cx="1382.0" cy="442.3" r="3.5" fill="#ff0000"/>
<circle cx="1382.8" cy="444.9" r="3.5" fill="#ff0000"/>
<circle cx="1383.6" cy="444.4" r="3.5" fill="#ff0000"/>
<circle cx="1384.4" cy="445.1" r="3.5" fill="#ff0000"/>
<circle cx="1385.2" cy="443.8" r="3.5" fill="#ff0000"/>
<circle cx="1386.0" cy="446.1" r="3.5" fill="#ff0000"/>
<circle cx="1386.8" cy="446.4" r="3.5" fill="#ff0000"/>
<circle cx="1387.6" cy="445.5" r="3.5" fill="#ff0000"/>
<circle cx="1388.4" cy="445.7" r="3.5" fill="#ff0000"/>
<circle cx="1389.2" cy="443.6" r="3.5" fill="#ff0000"/>
<circle cx="1390.0" cy="447.0" r="3.5" fill="#ff0000"/>
<circle cx="1390.8" cy="444.6" r="3.5" fill="#ff0000"/>
<circle cx="1391.6" cy="446.7" r="3.5" fill="#ff0000"/>
<circle cx="1392.4" cy="445.7" r="3.5" fill="#ff0000"/>
<circle cx="1393.2" cy="450.8" r="3.5" fill="#ff0000"/>
<circle cx="1394.0" cy="447.2" r="3.5" fill="#ff0000"/>
<circle cx="1394.8" cy="449.7" r="3.5" fill="#ff0000"/>
<circle cx="1395.6" cy="447.6" r="3.5" fill="#ff0000"/>
<circle cx="1396.4" cy="447.8" r="3.5" fill="#ff0000"/>
<circle cx="1397.2" cy="449.1" r="3.5" fill="#ff0000"/>
<circle cx="1398.0" cy="448.2" r="3.5" fill="#ff0000"/>
<circle cx="1398.8" cy="451.9" r="3.5" fill="#ff0000"/>
<circle cx="1399.6" cy="448.4" r="3.5" fill="#ff0000"/>
<circle cx="1400.4" cy="451.3" r="3.5" fill="#ff0000"/>
<circle cx="1401.2" cy="447.4" r="3.5" fill="#ff0000"/>
<circle cx="1402.0" cy="448.0" r="3.5" fill="#ff0000"/>
<circle cx="1402.8" cy="450.5" r="3.5" fill="#ff0000"/>
<circle cx="1403.6" cy="447.7" r="3.5" fill="#ff0000"/>
<circle cx="1404.4" cy="452.8" r="3.5" fill="#ff0000"/>
<circle cx="1405.2" cy="450.9" r="3.5" fill="#ff0000"/>
<circle cx="1406.0" cy="450.5" r="3.5" fill="#ff0000"/>
<circle cx="1406.8" cy="453.1" r="3.5" fill="#ff0000"/>
<circle cx="1407.6" cy="450.0" r="3.5" fill="#ff0000"/>
<circle cx="1408.4" cy="449.9" r="3.5" fill="#ff0000"/>
<circle cx="1409.2" cy="447.4" r="3.5" fill="#ff0000"/>
<circle cx="1410.0" cy="448.5" r="3.5" fill="#ff0000"/>
<circle cx="1410.8" cy="451.1" r="3.5" fill="#ff0000"/>
<circle cx="1411.6" cy="448.7" r="3.5" fill="#ff0000"/>
<circle cx="1412.4" cy="453.1" r="3.5" fill="#ff0000"/>
<circle cx="1413.2" cy="453.6" r="3.5" fill="#ff0000"/>
<circle cx="1414.0" cy="452.9" r="3.5" fill="#ff0000"/>
<circle cx="1414.8" cy="450.0" r="3.5" fill="#ff0000"/>
<circle cx="1415.6" cy="451.3" r="3.5" fill="#ff0000"/>
<circle cx="1416.4" cy="450.7" r="3.5" fill="#ff0000"/>
<circle cx="1417.2" cy="453.9" r="3.5" fill="#ff0000"/>
<circle cx="1418.0" cy="454.5" r="3.5" fill="#ff0000"/>
<circle cx="1418.8" cy="452.8" r="3.5" fill="#ff0000"/>
<circle cx="1419.6" cy="453.4" r="3.5" fill="#ff0000"/>
<circle cx="1420.4" cy="453.8" r="3.5" fill="#ff0000"/>
<circle cx="1421.2" cy="454.6" r="3.5" fill="#ff0000"/>
<circle cx="1422.0" cy="452.4" r="3.5" fill="#ff0000"/>
<circle cx="1422.8" cy="452.4" r="3.5" fill="#ff0000"/>
<circle cx="1423.6" cy="455.1" r="3.5" fill="#ff0000"/>
<circle cx="1424.4" cy="454.8" r="3.5" fill="#ff0000"/>
<circle cx="1425.2" cy="454.9" r="3.5" fill="#ff0000"/>
<circle cx="1426.0" cy="454.4" r="3.5" fill="#ff0000"/>
<circle cx="1426.8" cy="455.5" r="3.5" fill="#ff0000"/>
<circle cx="1427.6" cy="455.2" r="3.5" fill="#ff0000"/>
<circle cx="1428.4" cy="453.7" r="3.5" fill="#ff0000"/>
<circle cx="1429.2" cy="457.2" r="3.5" fill="#ff0000"/>
<circle cx="1430.0" cy="456.4" r="3.5" fill="#ff0000"/>
<circle cx="1430.8" cy="454.5" r="3.5" fill="#ff0000"/>
<circle cx="1431.6" cy="454.8" r="3.5" fill="#ff0000"/>
<circle cx="1432.4" cy="454.0" r="3.5" fill="#ff0000"/>
<circle cx="1433.2" cy="453.1" r="3.5" fill="#ff0000"/>
<circle cx="1434.0" cy="453.7" r="3.5" fill="#ff0000"/>
<circle cx="1434.8" cy="453.3" r="3.5" fill="#ff0000"/>
<circle cx="1435.6" cy="454.5" r="3.5" fill="#ff0000"/>
<circle cx="1436.4" cy="456.0" r="3.5" fill="#ff0000"/>
<circle cx="1437.2" cy="455.6" r="3.5" fill="#ff0000"/>
<circle cx="1438.0" cy="453.6" r="3.5" fill="#ff0000"/>
<circle cx="1438.8" cy="455.5" r="3.5" fill="#ff0000"/>
<circle cx="1439.6" cy="455.0" r="3.5" fill="#ff0000"/>
<circle cx="1440.4" cy="454.4" r="3.5" fill="#ff0000"/>
<circle cx="1441.2" cy="457.7" r="3.5" fill="#ff0000"/>
<circle cx="1442.0" cy="454.6" r="3.5" fill="#ff0000"/>
<circle cx="1442.8" cy="457.6" r="3.5" fill="#ff0000"/>
<circle cx="1443.6" cy="453.8" r="3.5" fill="#ff0000"/>
<circle cx="1444.4" cy="456.8" r="3.5" fill="#ff0000"/>
<circle cx="1445.2" cy="455.5" r="3.5" fill="#ff0000"/>
<circle cx="1446.0" cy="458.0" r="3.5" fill="#ff0000"/>
<circle cx="1446.8" cy="457.2" r="3.5" fill="#ff0000"/>
<circle cx="1447.6" cy="455.6" r="3.5" fill="#ff0000"/>
<circle cx="1448.4" cy="457.7" r="3.5" fill="#ff0000"/>
<circle cx="1449.2" cy="458.7" r="3.5" fill="#ff0000"/>
<circle cx="1450.0" cy="458.8" r="3.5" fill="#ff0000"/>
<circle cx="1450.8" cy="459.1" r="3.5" fill="#ff0000"/>
<circle cx="1451.6" cy="456.5" r="3.5" fill="#ff0000"/>
<circle cx="1452.4" cy="460.2" r="3.5" fill="#ff0000"/>
<circle cx="1453.2" cy="456.2" r="3.5" fill="#ff0000"/>
<circle cx="1454.0" cy="457.0" r="3.5" fill="#ff0000"/>
<circle cx="1454.8" cy="455.0" r="3.5" fill="#ff0000"/>
<circle cx="1455.6" cy="457.0" r="3.5" fill="#ff0000"/>
<circle cx="1456.4" cy="455.2" r="3.5" fill="#ff0000"/>
<circle cx="1457.2" cy="457.6" r="3.5" fill="#ff0000"/>
<circle cx="1458.0" cy="454.8" r="3.5" fill="#ff0000"/>
<circle cx="1458.8" cy="460.3" r="3.5" fill="#ff0000"/>
<circle cx="1459.6" cy="458.7" r="3.5" fill="#ff0000"/>
<circle cx="1460.4" cy="459.9" r="3.5" fill="#ff0000"/>
<circle cx="1461.2" cy="459.4" r="3.5" fill="#ff0000"/>
<circle cx="1462.0" cy="457.9" r="3.5" fill="#ff0000"/>
<circle cx="1462.8" cy="458.4" r="3.5" fill="#ff0000"/>
<circle cx="1463.6" cy="458.0" r="3.5" fill="#ff0000"/>
<circle cx="1464.4" cy="455.0" r="3.5" fill="#ff0000"/>
<circle cx="1465.2" cy="456.1" r="3.5" fill="#ff0000"/>
<circle cx="1466.0" cy="457.3" r="3.5" fill="#ff0000"/>
<circle cx="1466.8" cy="459.3" r="3.5" fill="#ff0000"/>
<circle cx="1467.6" cy="455.9" r="3.5" fill="#ff0000"/>
<circle cx="1468.4" cy="458.3" r="3.5" fill="#ff0000"/>
<circle cx="1469.2" cy="457.2" r="3.5" fill="#ff0000"/>
<circle cx="1470.0" cy="459.2" r="3.5" fill="#ff0000"/>
<circle cx="1470.8" cy="459.2" r="3.5" fill="#ff0000"/>
<circle cx="1471.6" cy="456.6" r="3.5" fill="#ff0000"/>
<circle cx="1472.4" cy="456.5" r="3.5" fill="#ff0000"/>
<circle cx="1473.2" cy="460.4" r="3.5" fill="#ff0000"/>
<circle cx="1474.0" cy="459.8" r="3.5" fill="#ff0000"/>
<circle cx="1474.8" cy="458.3" r="3.5" fill="#ff0000"/>
<circle cx="1475.6" cy="459.6" r="3.5" fill="#ff0000"/>
<circle cx="1476.4" cy="458.5" r="3.5" fill="#ff0000"/>
<circle cx="1477.2" cy="459.1" r="3.5" fill="#ff0000"/>
<circle cx="1478.0" cy="457.9" r="3.5" fill="#ff0000"/>
<circle cx="1478.8" cy="459.3" r="3.5" fill="#ff0000"/>
<circle cx="1479.6" cy="461.0" r="3.5" fill="#ff0000"/>
<circle cx="1480.4" cy="460.8" r="3.5" fill="#ff0000"/>
<circle cx="1481.2" cy="460.7" r="3.5" fill="#ff0000"/>
<circle cx="1482.0" cy="459.2" r="3.5" fill="#ff0000"/>
<circle cx="1482.8" cy="460.7" r="3.5" fill="#ff0000"/>
<circle cx="1483.6" cy="458.8" r="3.5" fill="#ff0000"/>
<circle cx="1484.4" cy="459.2" r="3.5" fill="#ff0000"/>
<circle cx="1485.2" cy="460.0" r="3.5" fill="#ff0000"/>
<circle cx="1486.0" cy="458.4" r="3.5" fill="#ff0000"/>
<circle cx="1486.8" cy="461.9" r="3.5" fill="#ff0000"/>
<circle cx="1487.0" cy="463.0" r="3.5" fill="#ff0000"/>
<circle cx="1487.5" cy="467.0" r="3.5" fill="#ff0000"/>
<circle cx="1487.5" cy="471.0" r="3.5" fill="#ff0000"/>
<rect x="132.0" y="26.2" width="538.80" height="443.30" fill="none" stroke="#000" stroke-width="2"/>
<rect x="905.0" y="27.8" width="590.20" height="441.70" fill="none" stroke="#000" stroke-width="2"/>
<text transform="translate(70.20,416.97) scale(0.9636,1)" style="font-size:30px;">10</text>
<text transform="translate(103.84,397.97) scale(0.9650,1)" style="font-size:24px;">2</text>
<text transform="translate(70.20,353.64) scale(0.9636,1)" style="font-size:30px;">10</text>
<text transform="translate(104.12,338.64) scale(0.9650,1)" style="font-size:24px;">3</text>
<text transform="translate(70.20,290.31) scale(0.9636,1)" style="font-size:30px;">10</text>
<text transform="translate(104.49,275.31) scale(0.9650,1)" style="font-size:24px;">4</text>
<text transform="translate(70.20,226.99) scale(0.9636,1)" style="font-size:30px;">10</text>
<text transform="translate(104.07,211.99) scale(0.9650,1)" style="font-size:24px;">5</text>
<text transform="translate(70.20,163.66) scale(0.9636,1)" style="font-size:30px;">10</text>
<text transform="translate(103.84,148.66) scale(0.9650,1)" style="font-size:24px;">6</text>
<text transform="translate(70.20,100.33) scale(0.9636,1)" style="font-size:30px;">10</text>
<text transform="translate(103.82,85.33) scale(0.9650,1)" style="font-size:24px;">7</text>
<text transform="translate(70.20,32.10) scale(0.9636,1)" style="font-size:30px;">10</text>
<text transform="translate(104.00,17.50) scale(0.9650,1)" style="font-size:24px;">8</text>
<text transform="translate(834.33,438.43) scale(0.9519,1)" style="font-size:30px;">10</text>
<text transform="translate(865.98,423.63) scale(0.9702,1)" style="font-size:24px;">-4</text>
<text transform="translate(834.33,379.54) scale(0.9519,1)" style="font-size:30px;">10</text>
<text transform="translate(865.95,364.74) scale(0.9958,1)" style="font-size:24px;">-2</text>
<text transform="translate(842.09,320.64) scale(0.9686,1)" style="font-size:30px;">10</text>
<text transform="translate(874.10,305.84) scale(0.9650,1)" style="font-size:24px;">0</text>
<text transform="translate(842.09,261.75) scale(0.9686,1)" style="font-size:30px;">10</text>
<text transform="translate(873.84,246.95) scale(0.9650,1)" style="font-size:24px;">2</text>
<text transform="translate(842.09,202.86) scale(0.9686,1)" style="font-size:30px;">10</text>
<text transform="translate(874.49,188.06) scale(0.9650,1)" style="font-size:24px;">4</text>
<text transform="translate(842.09,143.96) scale(0.9686,1)" style="font-size:30px;">10</text>
<text transform="translate(873.84,129.16) scale(0.9650,1)" style="font-size:24px;">6</text>
<text transform="translate(842.09,85.07) scale(0.9686,1)" style="font-size:30px;">10</text>
<text transform="translate(874.00,70.27) scale(0.9650,1)" style="font-size:24px;">8</text>
<text transform="translate(127.85,509.50) scale(0.9812,1)" style="font-size:30px;">0</text>
<text transform="translate(201.98,512.40) scale(0.9737,1)" style="font-size:30px;">1x10</text>
<text transform="translate(265.24,497.00) scale(1.0063,1)" style="font-size:24px;">-7</text>
<text transform="translate(308.01,512.40) scale(0.9920,1)" style="font-size:30px;">2x10</text>
<text transform="translate(372.44,497.00) scale(1.0063,1)" style="font-size:24px;">-7</text>
<text transform="translate(416.39,512.40) scale(0.9767,1)" style="font-size:30px;">3x10</text>
<text transform="translate(479.84,497.00) scale(1.0063,1)" style="font-size:24px;">-7</text>
<text transform="translate(523.35,512.40) scale(0.9899,1)" style="font-size:30px;">4x10</text>
<text transform="translate(587.64,497.00) scale(1.0063,1)" style="font-size:24px;">-7</text>
<text transform="translate(631.51,512.40) scale(0.9904,1)" style="font-size:30px;">5x10</text>
<text transform="translate(695.84,497.00) scale(1.0063,1)" style="font-size:24px;">-7</text>
<text transform="translate(858.89,511.30) scale(0.9481,1)" style="font-size:30px;">0.0001</text>
<text transform="translate(1028.37,511.30) scale(0.9676,1)" style="font-size:30px;">0.001</text>
<text transform="translate(1191.88,511.30) scale(0.9611,1)" style="font-size:30px;">0.01</text>
<text transform="translate(1350.67,511.30) scale(0.9670,1)" style="font-size:30px;">0.1</text>
<text transform="translate(498.90,72.10) scale(0.9960,1)" style="font-size:25.5px;">[NaCl] =</text>
<text transform="translate(581.61,106.10) scale(1.0000,1)" style="font-size:27px;">0</text>
<text transform="translate(604.30,106.10) scale(1.0494,1)" style="font-size:27px;">μM</text>
<line x1="472.50" y1="96.40" x2="537.80" y2="96.40" stroke="#bd80ff" stroke-width="2.6"/>
<text transform="translate(566.60,133.00) scale(1.0000,1)" style="font-size:27px;">50</text>
<text transform="translate(604.30,133.00) scale(1.0494,1)" style="font-size:27px;">μM</text>
<line x1="472.50" y1="123.90" x2="537.80" y2="123.90" stroke="#00ffff" stroke-width="2.6"/>
<text transform="translate(551.59,158.30) scale(1.0000,1)" style="font-size:27px;">100</text>
<text transform="translate(604.30,158.30) scale(1.0494,1)" style="font-size:27px;">μM</text>
<line x1="472.50" y1="149.20" x2="537.80" y2="149.20" stroke="#e6e342" stroke-width="2.6"/>
<text transform="translate(551.59,184.00) scale(1.0000,1)" style="font-size:27px;">200</text>
<text transform="translate(604.30,184.00) scale(1.0494,1)" style="font-size:27px;">μM</text>
<line x1="472.50" y1="174.50" x2="537.80" y2="174.50" stroke="#ff0000" stroke-width="2.6"/>
<text transform="translate(1301.42,72.10) scale(1.0082,1)" style="font-size:25.5px;">[NaCl] =</text>
<text transform="translate(1387.11,106.10) scale(1.0000,1)" style="font-size:27px;">0</text>
<text transform="translate(1409.80,106.10) scale(1.0494,1)" style="font-size:27px;">μM</text>
<line x1="1259.50" y1="96.40" x2="1343.75" y2="96.40" stroke="#bd80ff" stroke-width="1.3"/>
<circle cx="1301.5" cy="96.4" r="5.5" fill="#bd80ff"/>
<text transform="translate(1372.10,133.00) scale(1.0000,1)" style="font-size:27px;">50</text>
<text transform="translate(1409.80,133.00) scale(1.0494,1)" style="font-size:27px;">μM</text>
<line x1="1259.50" y1="123.90" x2="1343.75" y2="123.90" stroke="#00ffff" stroke-width="1.3"/>
<circle cx="1301.5" cy="123.9" r="5.5" fill="#00ffff"/>
<text transform="translate(1357.09,158.30) scale(1.0000,1)" style="font-size:27px;">100</text>
<text transform="translate(1409.80,158.30) scale(1.0494,1)" style="font-size:27px;">μM</text>
<line x1="1259.50" y1="149.20" x2="1343.75" y2="149.20" stroke="#e6e342" stroke-width="1.3"/>
<circle cx="1301.5" cy="149.2" r="5.5" fill="#e6e342"/>
<text transform="translate(1357.09,184.00) scale(1.0000,1)" style="font-size:27px;">200</text>
<text transform="translate(1409.80,184.00) scale(1.0494,1)" style="font-size:27px;">μM</text>
<line x1="1259.50" y1="174.50" x2="1343.75" y2="174.50" stroke="#ff0000" stroke-width="1.3"/>
<circle cx="1301.5" cy="174.5" r="5.5" fill="#ff0000"/>
<text transform="translate(30.9,282.6) rotate(-90)" style="font-size:42px"><tspan style="font-style:italic">I</tspan>(<tspan style="font-style:italic">q</tspan>)</text>
<text transform="translate(799.5,282.6) rotate(-90)" style="font-size:42px"><tspan style="font-style:italic">I</tspan>(<tspan style="font-style:italic">q</tspan>)</text>
<text transform="translate(334.39,590.90) scale(0.9832,1)" style="font-size:42px;font-style:italic;">q</text>
<text transform="translate(361.71,571.40) scale(1.0351,1)" style="font-size:25px;">2</text>
<text transform="translate(381.29,590.90) scale(0.8861,1)" style="font-size:42px;">(</text>
<text transform="translate(401.61,590.90) scale(1.0522,1)" style="font-size:42px;">Å</text>
<text transform="translate(436.77,572.60) scale(1.0264,1)" style="font-size:25px;">-2</text>
<text transform="translate(461.60,590.90) scale(0.9398,1)" style="font-size:42px;">)</text>
<text transform="translate(1141.41,590.90) scale(0.9671,1)" style="font-size:42px;font-style:italic;">q</text>
<text transform="translate(1175.97,590.90) scale(0.8951,1)" style="font-size:42px;">(</text>
<text transform="translate(1196.31,590.90) scale(1.0486,1)" style="font-size:42px;">Å</text>
<text transform="translate(1231.63,572.60) scale(0.8783,1)" style="font-size:25px;">-1</text>
<text transform="translate(1256.31,590.90) scale(0.8861,1)" style="font-size:42px;">)</text>
</svg></body></html>
